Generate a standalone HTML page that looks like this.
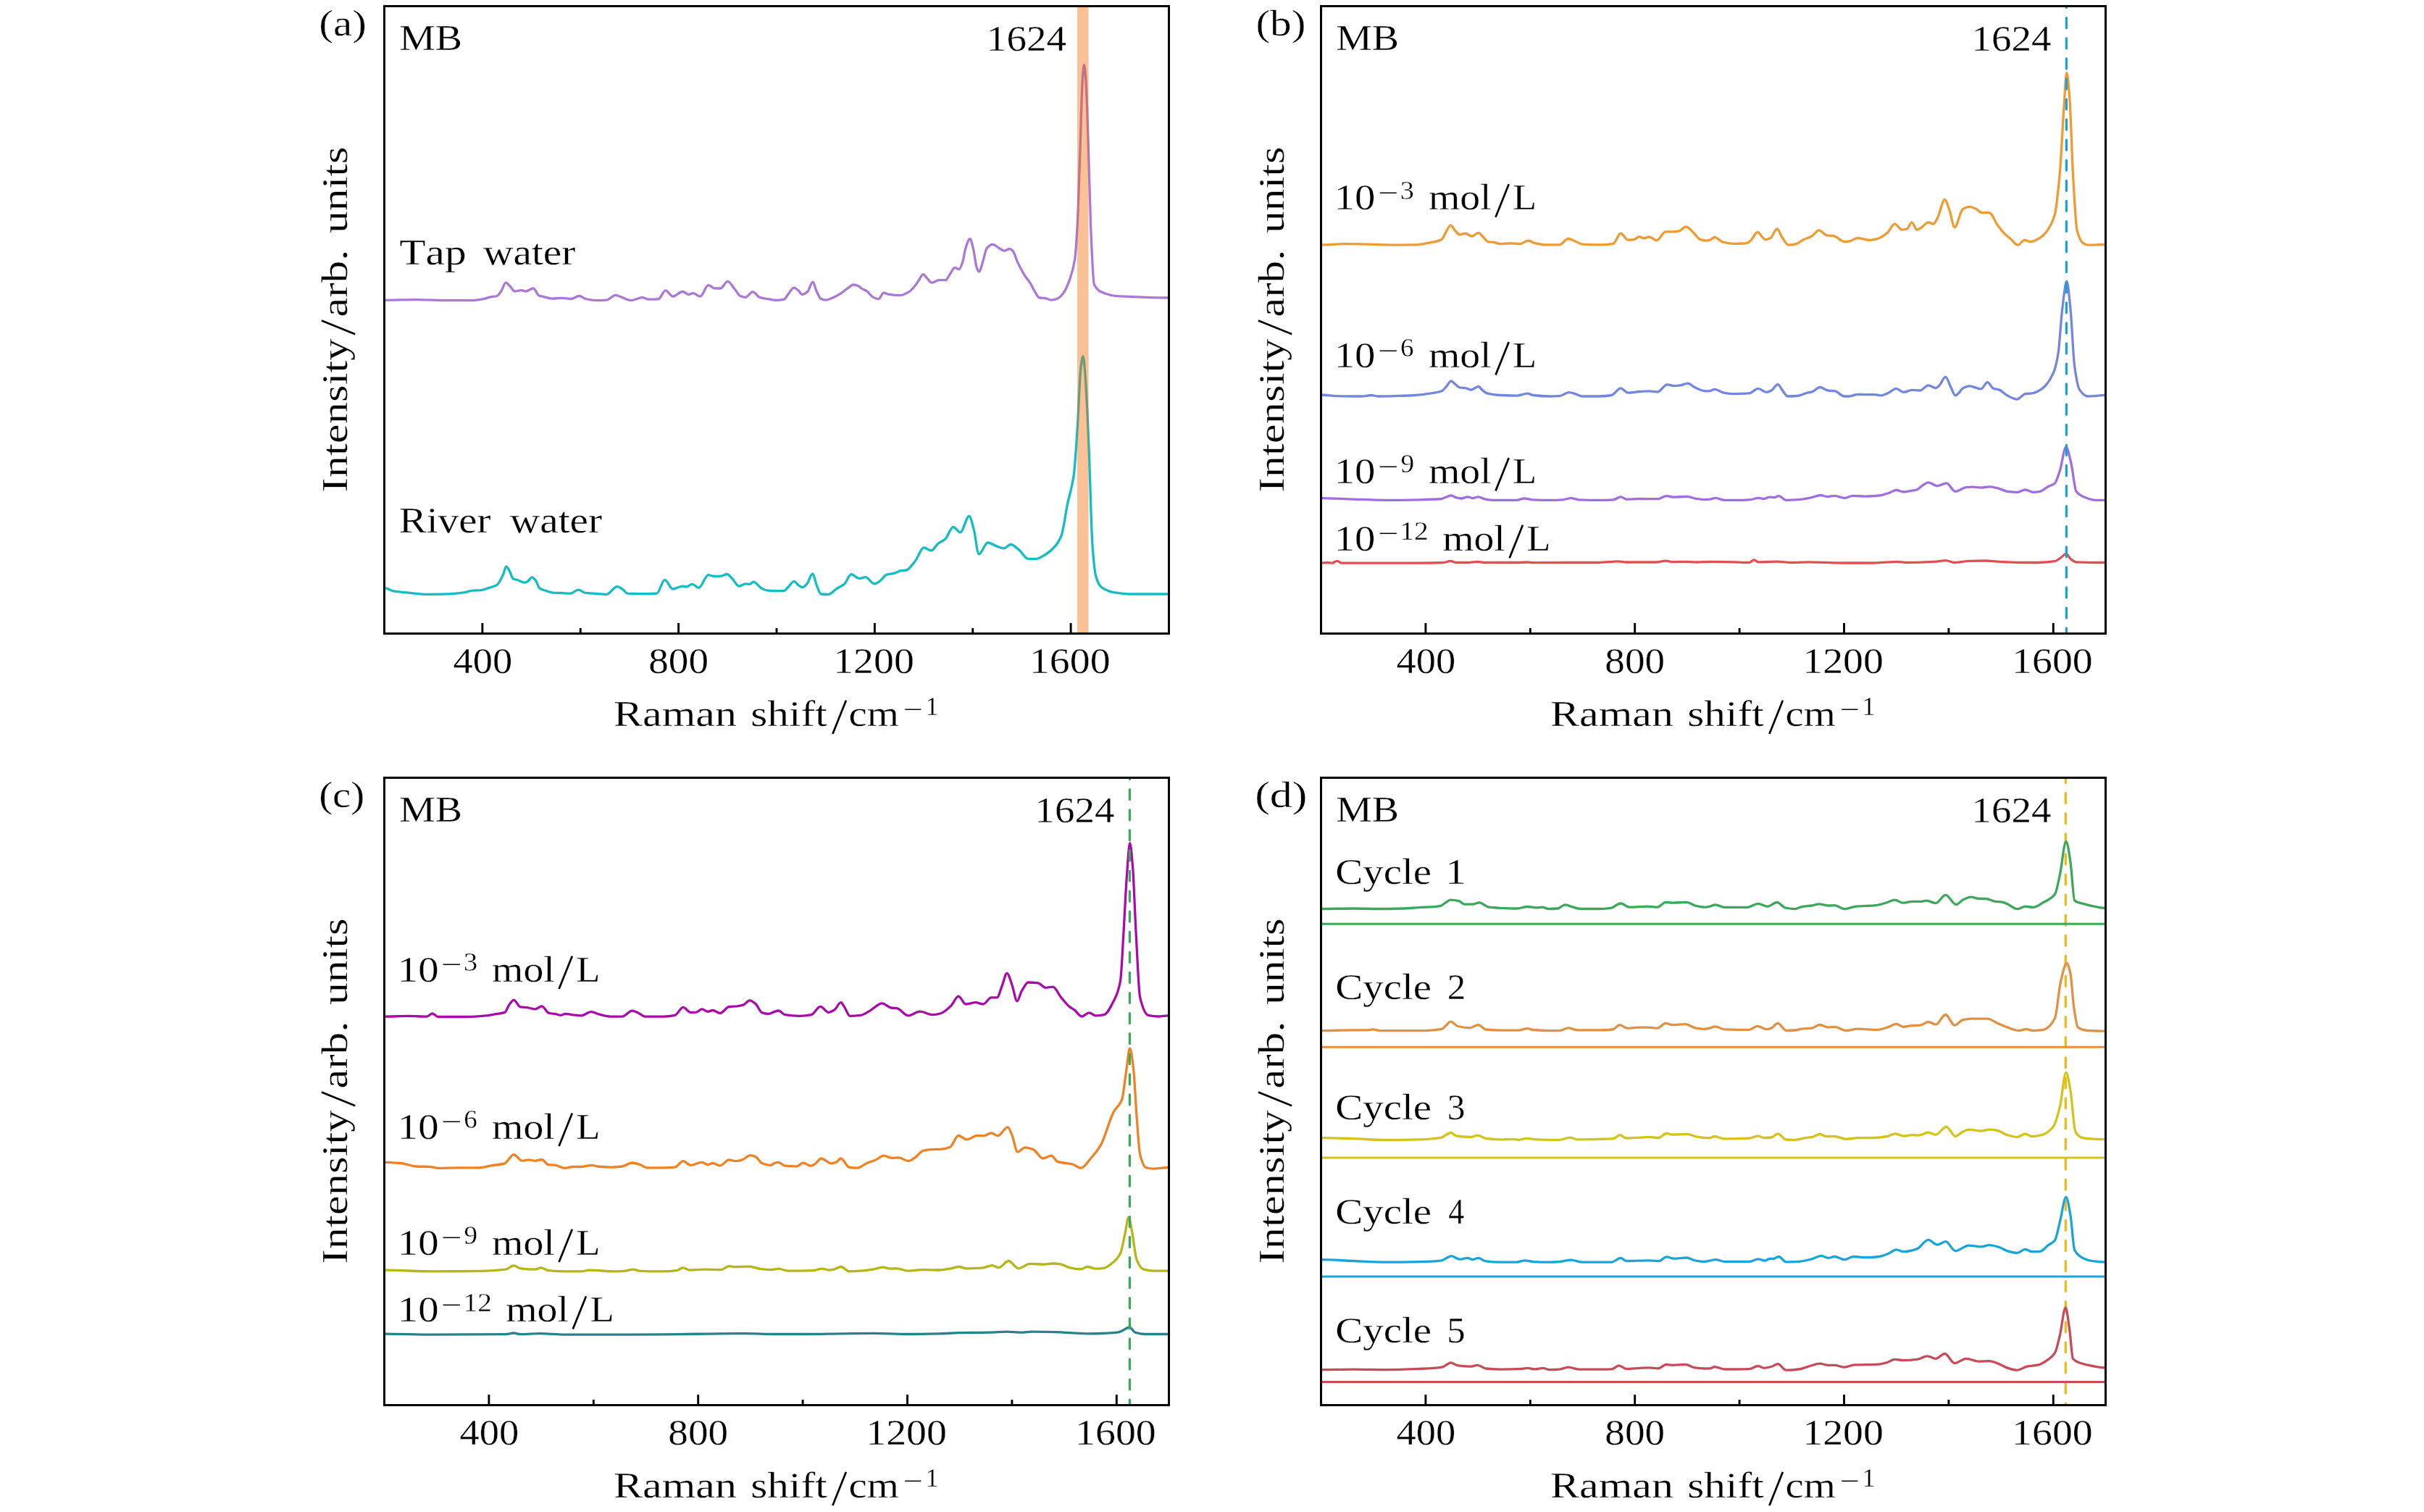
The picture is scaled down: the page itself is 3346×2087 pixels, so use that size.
<!DOCTYPE html><html><head><meta charset="utf-8"><style>html,body{margin:0;padding:0;background:#fff;width:3346px;height:2087px;overflow:hidden}svg{display:block;will-change:transform}text{font-family:"Liberation Serif", serif;fill:#000;font-kerning:none;stroke:#fff;stroke-width:0.3px}</style></head><body>
<svg width="3346" height="2087" viewBox="0 0 3346 2087">
<rect width="3346" height="2087" fill="#fff"/>
<defs>
<clipPath id="clipa"><rect x="530.5" y="8.5" width="1083.0" height="866.0"/></clipPath>
<clipPath id="clipb"><rect x="1823.5" y="8.5" width="1083.0" height="866.0"/></clipPath>
<clipPath id="clipc"><rect x="530.5" y="1073.5" width="1083.0" height="866.0"/></clipPath>
<clipPath id="clipd"><rect x="1823.5" y="1073.5" width="1083.0" height="866.0"/></clipPath>
</defs>
<line x1="2851.30" y1="1073.5" x2="2851.30" y2="1939.5" stroke="#F0B91A" stroke-width="3.3" stroke-dasharray="13.9 14.18" stroke-dashoffset="6.83" stroke-linecap="round"/>
<line x1="1823.5" y1="1275.3" x2="2906.5" y2="1275.3" stroke="#3CA85A" stroke-width="3.0"/>
<line x1="1823.5" y1="1445.2" x2="2906.5" y2="1445.2" stroke="#E19141" stroke-width="3.0"/>
<line x1="1823.5" y1="1598.0" x2="2906.5" y2="1598.0" stroke="#D4C319" stroke-width="3.0"/>
<line x1="1823.5" y1="1762.1" x2="2906.5" y2="1762.1" stroke="#19A5D7" stroke-width="3.0"/>
<line x1="1823.5" y1="1907.5" x2="2906.5" y2="1907.5" stroke="#C84B5A" stroke-width="3.0"/>
<path d="M527.5,414.3C528.3,414.3 529.2,414.3 530.0,414.3C544.9,414.3 559.7,413.6 574.6,413.6C589.4,413.6 604.3,414.7 619.1,414.7C630.2,414.7 641.4,414.7 652.5,414.7C657.7,414.7 662.9,413.5 668.1,412.5C671.1,411.9 674.1,410.4 677.0,409.8C680.0,409.2 683.0,409.3 685.9,408.5C687.8,408.0 689.6,405.0 691.5,402.5C693.7,399.5 696.0,390.2 698.2,390.2C700.0,390.2 701.9,393.0 703.8,394.7C706.0,396.7 708.2,402.0 710.4,402.0C713.4,402.0 716.4,400.7 719.4,400.7C721.6,400.7 723.8,402.0 726.0,402.0C729.4,402.0 732.7,398.0 736.1,398.0C738.7,398.0 741.3,407.0 743.9,408.0C746.1,408.9 748.3,409.1 750.5,409.6C754.3,410.4 758.0,412.1 761.7,412.1C766.1,412.1 770.6,411.4 775.0,411.4C779.5,411.4 784.0,412.5 788.4,412.5C792.1,412.5 795.8,408.5 799.5,408.5C802.5,408.5 805.5,411.8 808.5,412.5C813.7,413.7 818.9,414.7 824.1,414.7C828.5,414.7 833.0,414.5 837.4,414.1C841.5,413.7 845.6,407.4 849.7,407.4C853.0,407.4 856.4,409.8 859.7,410.9C863.4,412.2 867.1,414.7 870.8,414.7C876.0,414.7 881.2,410.7 886.4,410.7C889.4,410.7 892.4,413.2 895.3,413.2C899.8,413.2 904.2,413.1 908.7,412.9C912.0,412.8 915.4,400.9 918.7,400.9C922.1,400.9 925.4,409.2 928.8,409.2C933.2,409.2 937.7,402.5 942.1,402.5C945.1,402.5 948.1,406.5 951.0,406.5C952.9,406.5 954.7,404.7 956.6,404.7C959.9,404.7 963.3,409.2 966.6,409.2C970.3,409.2 974.0,393.6 977.8,393.6C980.7,393.6 983.7,398.0 986.7,398.0C989.3,398.0 991.9,398.0 994.5,398.0C997.8,398.0 1001.2,388.4 1004.5,388.4C1007.5,388.4 1010.4,394.6 1013.4,398.0C1016.4,401.4 1019.3,407.6 1022.3,408.7C1024.5,409.6 1026.8,410.3 1029.0,410.3C1032.3,410.3 1035.7,402.9 1039.0,402.9C1042.4,402.9 1045.7,409.7 1049.0,410.7C1052.7,411.8 1056.3,412.1 1060.0,412.7C1063.9,413.3 1067.7,414.5 1071.6,414.5C1075.0,414.5 1078.5,414.1 1082.0,413.4C1083.9,412.9 1085.9,408.7 1087.8,406.4C1090.5,403.3 1093.2,397.2 1095.9,397.2C1097.8,397.2 1099.7,399.2 1101.7,400.6C1103.6,402.1 1105.5,406.4 1107.5,406.4C1109.8,406.4 1112.1,404.7 1114.4,402.9C1116.9,401.0 1119.5,389.1 1122.0,389.1C1123.7,389.1 1125.4,398.2 1127.1,401.8C1129.1,405.8 1131.0,411.3 1132.9,412.2C1135.2,413.3 1137.6,414.1 1139.9,414.1C1143.3,414.1 1146.8,412.0 1150.3,410.6C1154.1,409.0 1158.0,406.6 1161.9,404.1C1164.9,402.1 1168.0,399.2 1171.1,397.2C1173.4,395.6 1175.8,393.0 1178.1,393.0C1180.4,393.0 1182.7,393.9 1185.0,394.8C1186.6,395.5 1188.1,397.4 1189.6,398.3C1192.0,399.7 1194.3,400.3 1196.6,401.8C1199.3,403.6 1202.0,408.5 1204.7,409.9C1207.4,411.3 1210.1,412.7 1212.8,412.7C1215.1,412.7 1217.4,404.1 1219.7,404.1C1222.1,404.1 1224.4,406.1 1226.7,406.4C1232.1,407.1 1237.5,407.6 1242.9,407.6C1246.7,407.6 1250.6,405.2 1254.5,402.9C1257.5,401.2 1260.6,397.5 1263.7,393.7C1265.3,391.8 1266.8,389.0 1268.4,386.7C1270.3,383.9 1272.2,378.6 1274.1,378.6C1276.1,378.6 1278.0,382.5 1279.9,384.4C1281.9,386.4 1283.8,390.2 1285.7,390.2C1289.2,390.2 1292.7,386.7 1296.1,386.7C1299.2,386.7 1302.3,386.7 1305.4,386.7C1307.3,386.7 1309.3,381.3 1311.2,378.6C1313.5,375.5 1315.8,369.4 1318.1,369.4C1320.1,369.4 1322.0,371.7 1323.9,371.7C1325.5,371.7 1327.0,366.7 1328.5,362.4C1330.1,358.2 1331.6,346.0 1333.2,341.6C1335.1,336.0 1337.0,329.6 1339.0,329.6C1340.5,329.6 1342.0,337.8 1343.6,343.9C1345.1,350.0 1346.7,365.5 1348.2,369.4C1349.4,372.3 1350.5,375.2 1351.7,375.2C1353.2,375.2 1354.8,367.1 1356.3,362.4C1358.3,356.6 1360.2,345.0 1362.1,342.8C1364.8,339.7 1367.5,337.4 1370.2,337.4C1373.3,337.4 1376.4,341.1 1379.5,342.8C1381.8,344.0 1384.1,346.2 1386.4,346.2C1388.7,346.2 1391.0,343.5 1393.4,343.5C1394.9,343.5 1396.5,344.8 1398.0,346.2C1400.3,348.4 1402.6,357.7 1404.9,362.4C1408.8,370.4 1412.7,377.7 1416.5,383.3C1418.1,385.5 1419.6,386.8 1421.1,389.1C1423.5,392.5 1425.8,398.2 1428.1,401.8C1430.4,405.4 1432.7,410.8 1435.0,411.0C1437.3,411.3 1439.7,411.3 1442.0,411.5C1445.1,411.8 1448.2,414.1 1451.2,414.1C1454.3,414.1 1457.4,413.0 1460.5,411.7C1462.8,410.8 1465.1,408.2 1467.4,405.3C1470.5,401.3 1473.6,394.3 1476.7,385.6C1479.0,379.1 1481.3,373.0 1483.7,357.8C1484.8,350.2 1486.0,332.1 1487.1,311.5C1488.3,290.9 1489.4,251.6 1490.6,218.9C1491.8,186.2 1492.9,132.8 1494.1,114.7C1494.8,102.7 1495.6,89.3 1496.4,89.3C1497.2,89.3 1497.9,98.7 1498.7,107.8C1499.9,121.4 1501.0,162.4 1502.2,195.8C1503.3,229.1 1504.5,284.5 1505.6,311.5C1507.2,347.5 1508.7,389.4 1510.3,392.5C1514.5,401.1 1518.8,402.4 1523.0,404.1C1529.2,406.6 1535.4,408.3 1541.5,408.7C1550.8,409.4 1560.0,409.6 1569.3,409.9C1583.9,410.4 1598.5,411.0 1613.1,411.0C1614.2,411.0 1615.4,411.0 1616.5,411.0" fill="none" stroke="#AA78D6" stroke-width="3.3" stroke-linejoin="round" stroke-linecap="round" clip-path="url(#clipa)"/>
<path d="M527.5,811.4C528.3,811.4 529.2,811.4 530.0,811.4C534.5,811.4 538.9,815.1 543.4,815.9C550.0,817.0 556.7,817.4 563.4,818.1C570.8,818.9 578.3,820.3 585.7,820.3C596.8,820.3 608.0,820.1 619.1,819.9C626.5,819.7 634.0,818.7 641.4,817.6C645.1,817.1 648.8,815.4 652.5,815.2C656.2,814.9 659.9,815.0 663.7,814.7C667.4,814.5 671.1,812.6 674.8,811.4C678.5,810.2 682.2,809.7 685.9,807.4C688.9,805.6 691.9,798.9 694.8,792.5C696.1,789.7 697.4,781.8 698.6,781.8C700.3,781.8 702.1,786.2 703.8,789.1C705.2,791.7 706.7,797.9 708.2,798.7C710.4,799.9 712.7,800.0 714.9,800.7C717.9,801.7 720.8,804.1 723.8,804.1C725.3,804.1 726.8,803.2 728.3,802.5C730.3,801.5 732.4,796.9 734.5,796.9C736.1,796.9 737.8,799.4 739.4,801.4C741.3,803.7 743.1,810.8 745.0,812.1C747.6,813.9 750.2,814.4 752.8,815.2C756.5,816.4 760.2,817.8 763.9,818.1C767.6,818.3 771.3,818.4 775.0,818.5C779.1,818.7 783.2,819.2 787.3,819.2C791.0,819.2 794.7,814.1 798.4,814.1C801.4,814.1 804.4,817.6 807.3,818.1C811.4,818.7 815.5,818.9 819.6,819.2C825.5,819.6 831.5,820.3 837.4,820.3C842.2,820.3 847.1,809.6 851.9,809.6C854.5,809.6 857.1,812.0 859.7,813.6C861.9,815.1 864.2,819.0 866.4,819.2C870.8,819.5 875.3,819.7 879.7,819.7C883.5,819.7 887.2,819.7 890.9,819.7C896.1,819.7 901.3,819.5 906.5,819.2C910.2,819.0 913.9,800.3 917.6,800.3C921.3,800.3 925.0,813.0 928.8,813.0C933.2,813.0 937.7,809.2 942.1,809.2C944.0,809.2 945.8,809.8 947.7,809.8C950.3,809.8 952.9,806.3 955.5,806.3C958.5,806.3 961.4,811.4 964.4,811.4C968.9,811.4 973.3,793.6 977.8,793.6C980.4,793.6 983.0,795.4 985.6,795.4C988.9,795.4 992.2,795.3 995.6,795.1C998.2,795.0 1000.8,792.5 1003.4,792.5C1006.0,792.5 1008.6,796.6 1011.2,799.2C1014.1,802.0 1017.1,809.2 1020.1,809.2C1023.1,809.2 1026.0,805.8 1029.0,805.8C1030.9,805.8 1032.7,806.3 1034.6,806.3C1036.4,806.3 1038.3,803.2 1040.1,803.2C1043.8,803.2 1047.6,810.3 1051.3,812.1C1054.2,813.5 1057.1,815.0 1060.0,815.1C1067.3,815.5 1074.7,815.6 1082.0,815.6C1084.1,815.6 1086.1,812.1 1088.1,810.2C1090.8,807.7 1093.5,802.4 1096.2,802.4C1098.0,802.4 1099.8,806.0 1101.6,807.3C1103.6,808.7 1105.7,810.7 1107.7,810.7C1109.8,810.7 1111.8,808.0 1113.8,805.8C1116.5,803.0 1119.1,791.9 1121.7,791.9C1123.6,791.9 1125.4,803.4 1127.3,807.8C1129.3,812.6 1131.4,819.8 1133.4,820.0C1136.7,820.3 1140.0,820.5 1143.2,820.5C1147.3,820.5 1151.4,814.7 1155.5,812.2C1158.7,810.1 1162.0,809.2 1165.2,806.5C1168.5,803.9 1171.8,792.6 1175.0,792.6C1178.7,792.6 1182.4,798.5 1186.0,798.5C1188.9,798.5 1191.8,796.7 1194.6,796.7C1198.7,796.7 1202.8,805.8 1206.9,805.8C1209.3,805.8 1211.7,803.9 1214.2,802.4C1217.5,800.4 1220.7,794.0 1224.0,793.1C1227.3,792.1 1230.5,792.1 1233.8,791.4C1237.0,790.6 1240.3,788.2 1243.6,787.7C1246.0,787.3 1248.5,787.4 1250.9,787.0C1255.0,786.3 1259.1,779.7 1263.1,774.7C1267.2,769.8 1271.3,755.9 1275.4,755.9C1278.6,755.9 1281.9,760.0 1285.2,760.0C1288.4,760.0 1291.7,752.8 1295.0,750.2C1298.2,747.7 1301.5,747.0 1304.8,744.1C1308.4,740.9 1312.1,727.5 1315.8,727.5C1319.0,727.5 1322.3,734.8 1325.6,734.8C1329.6,734.8 1333.7,712.3 1337.8,712.3C1339.8,712.3 1341.9,722.3 1343.9,729.4C1346.4,738.1 1348.8,764.9 1351.3,764.9C1355.3,764.9 1359.4,749.0 1363.5,749.0C1367.6,749.0 1371.7,752.5 1375.7,753.9C1379.0,755.0 1382.3,756.9 1385.5,756.9C1388.8,756.9 1392.1,751.5 1395.3,751.5C1399.4,751.5 1403.5,756.7 1407.6,760.0C1411.2,763.1 1414.9,770.7 1418.6,771.1C1422.2,771.4 1425.9,771.5 1429.6,771.5C1433.7,771.5 1437.7,768.5 1441.8,766.2C1446.7,763.4 1451.6,759.6 1456.5,753.9C1459.4,750.6 1462.2,746.6 1465.1,739.2C1467.9,731.9 1470.8,709.0 1473.6,695.2C1476.5,681.4 1479.3,676.2 1482.2,656.0C1483.8,644.5 1485.5,616.7 1487.1,592.4C1488.7,568.0 1490.4,518.8 1492.0,506.7C1493.0,499.4 1494.0,492.0 1494.9,492.0C1496.0,492.0 1497.1,506.7 1498.1,519.0C1499.7,537.8 1501.4,579.1 1503.0,616.9C1504.6,654.6 1506.3,729.3 1507.9,751.5C1509.5,773.6 1511.2,789.9 1512.8,795.5C1515.2,803.9 1517.7,808.3 1520.1,810.2C1525.9,814.6 1531.6,816.6 1537.3,817.6C1545.4,818.9 1553.6,820.0 1561.8,820.0C1578.9,820.0 1596.0,820.0 1613.1,820.0C1614.3,820.0 1615.4,820.0 1616.5,820.0" fill="none" stroke="#12BEC3" stroke-width="3.3" stroke-linejoin="round" stroke-linecap="round" clip-path="url(#clipa)"/>
<path d="M1820.5,337.9C1821.3,337.9 1822.2,337.9 1823.0,337.9C1834.3,337.9 1845.6,336.7 1856.8,336.7C1868.1,336.7 1879.4,337.0 1890.7,337.2C1902.0,337.4 1913.3,338.1 1924.5,338.1C1934.3,338.1 1944.1,338.0 1953.9,337.9C1959.1,337.8 1964.4,336.6 1969.7,335.6C1976.5,334.4 1983.2,333.8 1990.0,330.4C1992.2,329.3 1994.5,322.2 1996.8,318.7C1998.6,315.8 2000.5,310.8 2002.4,310.8C2004.3,310.8 2006.2,315.6 2008.0,317.5C2010.3,319.9 2012.6,323.9 2014.8,323.9C2017.4,323.9 2020.1,322.1 2022.7,322.1C2025.7,322.1 2028.7,326.1 2031.7,326.1C2034.7,326.1 2037.8,321.4 2040.8,321.4C2043.4,321.4 2046.0,326.4 2048.7,328.8C2050.5,330.5 2052.4,333.5 2054.3,333.8C2056.9,334.2 2059.6,334.1 2062.2,334.5C2065.2,334.8 2068.2,336.7 2071.2,336.7C2075.7,336.7 2080.3,335.8 2084.8,335.8C2089.3,335.8 2093.8,336.7 2098.3,336.7C2102.1,336.7 2105.8,332.2 2109.6,332.2C2112.6,332.2 2115.6,334.9 2118.6,335.6C2123.9,336.7 2129.1,337.9 2134.4,337.9C2140.4,337.9 2146.4,337.9 2152.5,337.9C2156.6,337.9 2160.7,329.5 2164.9,329.5C2168.3,329.5 2171.6,332.0 2175.0,333.3C2178.0,334.5 2181.1,337.0 2184.1,337.2C2191.6,337.7 2199.1,337.9 2206.6,337.9C2213.4,337.9 2220.2,337.4 2226.9,336.3C2230.3,335.7 2233.7,322.1 2237.1,322.1C2240.5,322.1 2243.9,331.1 2247.2,331.1C2249.9,331.1 2252.5,330.9 2255.1,330.6C2257.8,330.4 2260.4,326.6 2263.0,326.6C2264.9,326.6 2266.8,328.8 2268.7,328.8C2271.3,328.8 2273.9,327.0 2276.6,327.0C2280.0,327.0 2283.4,331.8 2286.7,331.8C2290.9,331.8 2295.0,319.8 2299.1,319.8C2302.2,319.8 2305.2,319.8 2308.2,319.8C2311.2,319.8 2314.2,319.5 2317.2,319.1C2320.6,318.7 2324.0,313.0 2327.4,313.0C2330.7,313.0 2334.1,317.9 2337.5,320.9C2340.5,323.6 2343.5,329.4 2346.5,330.4C2349.5,331.4 2352.6,332.2 2355.6,332.2C2357.0,332.2 2358.5,331.8 2360.0,331.4C2362.3,330.8 2364.5,327.3 2366.8,327.3C2370.6,327.3 2374.4,333.2 2378.2,334.1C2383.4,335.4 2388.7,336.4 2394.0,336.4C2399.3,336.4 2404.6,336.3 2409.9,335.9C2412.2,335.8 2414.5,333.7 2416.7,331.9C2419.7,329.4 2422.8,320.5 2425.8,320.5C2429.6,320.5 2433.4,330.7 2437.1,330.7C2439.4,330.7 2441.7,329.6 2444.0,328.5C2447.0,326.9 2450.0,316.0 2453.0,316.0C2455.3,316.0 2457.6,324.1 2459.8,327.3C2462.9,331.6 2465.9,338.2 2468.9,338.2C2472.7,338.2 2476.5,337.4 2480.3,336.4C2483.3,335.6 2486.3,332.2 2489.3,330.7C2493.1,328.9 2496.9,328.2 2500.7,326.2C2504.1,324.3 2507.5,317.8 2510.9,317.8C2514.3,317.8 2517.7,323.8 2521.1,324.6C2524.9,325.5 2528.7,325.4 2532.4,326.2C2537.0,327.2 2541.5,333.7 2546.1,333.7C2548.3,333.7 2550.6,333.3 2552.9,333.0C2556.6,332.4 2560.4,328.5 2564.2,328.5C2569.5,328.5 2574.8,331.4 2580.1,331.4C2583.9,331.4 2587.7,330.5 2591.4,329.6C2596.0,328.5 2600.5,325.3 2605.0,321.6C2608.5,318.9 2611.9,309.2 2615.3,309.2C2618.7,309.2 2622.1,317.1 2625.5,317.1C2627.7,317.1 2630.0,316.6 2632.3,316.0C2634.5,315.3 2636.8,306.9 2639.1,306.9C2641.4,306.9 2643.6,317.1 2645.9,317.1C2648.2,317.1 2650.4,315.1 2652.7,313.7C2655.7,311.9 2658.7,306.9 2661.8,306.9C2664.0,306.9 2666.3,309.2 2668.6,309.2C2670.5,309.2 2672.4,304.5 2674.3,301.2C2677.7,295.3 2681.1,275.6 2684.5,275.6C2686.7,275.6 2689.0,284.9 2691.3,291.0C2693.5,297.1 2695.8,313.7 2698.1,313.7C2701.9,313.7 2705.6,291.1 2709.4,288.7C2712.4,286.9 2715.5,285.3 2718.5,285.3C2721.5,285.3 2724.5,286.9 2727.6,288.3C2730.2,289.5 2732.9,293.7 2735.5,293.7C2738.9,293.7 2742.3,293.3 2745.7,293.3C2749.5,293.3 2753.3,305.3 2757.1,310.3C2760.9,315.3 2764.6,320.2 2768.4,323.9C2770.7,326.1 2773.0,327.7 2775.2,329.6C2778.6,332.4 2782.0,338.2 2785.4,338.2C2788.5,338.2 2791.5,331.4 2794.5,331.4C2797.2,331.4 2799.8,333.7 2802.4,333.7C2806.2,333.7 2810.0,331.5 2813.8,329.6C2817.6,327.6 2821.4,324.1 2825.1,319.4C2828.9,314.6 2832.7,308.9 2836.5,295.6C2838.8,287.5 2841.0,263.9 2843.3,238.8C2845.2,217.9 2847.1,174.2 2849.0,148.1C2850.2,130.3 2851.5,100.4 2852.8,100.4C2854.2,100.4 2855.5,119.5 2856.9,136.7C2858.4,155.9 2859.9,212.5 2861.4,238.8C2863.3,271.7 2865.2,310.9 2867.1,318.2C2869.8,328.5 2872.4,333.4 2875.1,335.3C2877.3,336.9 2879.6,338.2 2881.9,338.2C2889.8,338.2 2897.7,337.5 2905.7,337.5C2907.0,337.5 2908.2,337.5 2909.5,337.5" fill="none" stroke="#F09B32" stroke-width="3.3" stroke-linejoin="round" stroke-linecap="round" clip-path="url(#clipb)"/>
<path d="M1820.5,545.0C1821.3,545.0 1822.2,545.0 1823.0,545.0C1830.5,545.0 1838.0,546.4 1845.6,546.6C1856.8,546.9 1868.1,547.0 1879.4,547.0C1883.9,547.0 1888.4,545.5 1893.0,545.5C1896.0,545.5 1899.0,547.0 1902.0,547.0C1909.5,547.0 1917.0,546.8 1924.5,546.6C1934.3,546.3 1944.1,546.1 1953.9,545.5C1959.1,545.1 1964.4,544.4 1969.7,543.7C1976.5,542.7 1983.2,542.2 1990.0,539.8C1992.2,539.0 1994.5,535.5 1996.8,533.1C1998.9,530.8 2001.0,525.8 2003.1,525.8C2004.7,525.8 2006.4,528.4 2008.0,529.7C2010.3,531.4 2012.6,534.4 2014.8,534.9C2017.8,535.4 2020.8,535.3 2023.8,535.8C2026.1,536.1 2028.4,538.0 2030.6,538.0C2034.0,538.0 2037.4,533.5 2040.8,533.5C2042.6,533.5 2044.5,537.2 2046.4,538.7C2048.7,540.4 2050.9,542.7 2053.2,543.2C2059.2,544.6 2065.2,545.2 2071.2,545.5C2078.8,545.8 2086.3,546.1 2093.8,546.1C2098.7,546.1 2103.6,543.2 2108.5,543.2C2111.1,543.2 2113.7,545.1 2116.4,545.5C2123.9,546.4 2131.4,547.0 2138.9,547.0C2143.4,547.0 2148.0,546.9 2152.5,546.6C2157.0,546.3 2161.5,541.6 2166.0,541.6C2169.0,541.6 2172.0,543.0 2175.0,543.9C2178.0,544.8 2181.1,547.0 2184.1,547.0C2191.6,547.0 2199.1,547.0 2206.6,547.0C2212.6,547.0 2218.7,546.5 2224.7,545.5C2228.8,544.8 2233.0,535.8 2237.1,535.8C2240.5,535.8 2243.9,542.1 2247.2,542.1C2252.5,542.1 2257.8,540.8 2263.0,540.5C2267.6,540.2 2272.1,539.8 2276.6,539.8C2280.3,539.8 2284.1,540.9 2287.9,540.9C2292.4,540.9 2296.9,530.8 2301.4,530.8C2304.4,530.8 2307.4,532.6 2310.4,532.6C2313.4,532.6 2316.4,532.3 2319.5,531.9C2322.8,531.5 2326.2,529.2 2329.6,529.2C2333.0,529.2 2336.4,533.4 2339.8,534.9C2344.7,536.9 2349.5,539.8 2354.4,539.8C2356.3,539.8 2358.1,539.8 2360.0,539.7C2362.3,539.6 2364.5,537.4 2366.8,537.4C2371.3,537.4 2375.9,541.8 2380.4,542.4C2385.0,543.1 2389.5,543.6 2394.0,543.6C2400.8,543.6 2407.6,543.4 2414.5,542.9C2418.6,542.6 2422.8,536.3 2426.9,536.3C2430.7,536.3 2434.5,541.3 2438.3,541.3C2440.5,541.3 2442.8,540.1 2445.1,539.0C2448.1,537.6 2451.1,530.6 2454.2,530.6C2456.1,530.6 2457.9,535.6 2459.8,537.9C2462.5,541.1 2465.1,547.0 2467.8,547.0C2471.9,547.0 2476.1,546.8 2480.3,546.5C2484.8,546.2 2489.3,543.6 2493.9,542.4C2496.5,541.8 2499.2,541.5 2501.8,540.6C2505.2,539.5 2508.6,534.5 2512.0,534.5C2515.8,534.5 2519.6,538.6 2523.4,539.0C2526.4,539.4 2529.4,539.3 2532.4,539.7C2537.0,540.3 2541.5,547.0 2546.1,547.0C2548.3,547.0 2550.6,547.0 2552.9,547.0C2556.6,547.0 2560.4,544.3 2564.2,544.3C2568.0,544.3 2571.8,544.7 2575.6,544.7C2579.3,544.7 2583.1,544.7 2586.9,544.7C2589.9,544.7 2592.9,545.8 2596.0,545.8C2599.8,545.8 2603.5,543.6 2607.3,542.0C2610.7,540.5 2614.1,536.3 2617.5,536.3C2620.9,536.3 2624.3,541.3 2627.7,541.3C2631.5,541.3 2635.3,538.4 2639.1,538.4C2642.9,538.4 2646.6,539.0 2650.4,539.0C2654.2,539.0 2658.0,531.8 2661.8,531.8C2665.2,531.8 2668.6,535.6 2672.0,535.6C2673.9,535.6 2675.8,533.0 2677.7,531.1C2680.3,528.5 2682.9,520.2 2685.6,520.2C2687.9,520.2 2690.1,529.1 2692.4,533.4C2694.7,537.6 2696.9,545.8 2699.2,545.8C2703.0,545.8 2706.8,536.8 2710.6,535.2C2713.2,534.1 2715.8,532.9 2718.5,532.9C2723.8,532.9 2729.1,536.8 2734.4,536.8C2737.4,536.8 2740.4,527.7 2743.5,527.7C2746.1,527.7 2748.7,535.1 2751.4,536.1C2754.0,537.1 2756.7,537.0 2759.3,537.9C2763.1,539.2 2766.9,544.0 2770.7,545.8C2775.2,548.1 2779.8,551.1 2784.3,551.1C2788.1,551.1 2791.9,544.1 2795.6,543.6C2798.7,543.2 2801.7,543.3 2804.7,542.9C2809.3,542.3 2813.8,539.8 2818.3,536.8C2823.6,533.2 2828.9,526.7 2834.2,515.2C2836.5,510.3 2838.8,501.4 2841.0,488.0C2842.9,476.8 2844.8,441.8 2846.7,426.7C2848.7,410.4 2850.8,388.2 2852.8,388.2C2854.6,388.2 2856.3,410.0 2858.0,426.7C2859.9,444.9 2861.8,492.7 2863.7,506.1C2866.0,522.3 2868.2,534.6 2870.5,537.9C2874.3,543.4 2878.1,547.0 2881.9,547.0C2885.6,547.0 2889.4,546.7 2893.2,546.5C2897.4,546.3 2901.5,545.4 2905.7,545.4C2907.0,545.4 2908.2,545.4 2909.5,545.4" fill="none" stroke="#7387E1" stroke-width="3.3" stroke-linejoin="round" stroke-linecap="round" clip-path="url(#clipb)"/>
<path d="M1820.5,687.6C1821.3,687.6 1822.2,687.6 1823.0,687.6C1838.0,687.6 1853.1,688.7 1868.1,689.1C1883.2,689.6 1898.2,690.3 1913.3,690.3C1928.3,690.3 1943.4,690.1 1958.4,689.8C1968.9,689.6 1979.5,689.4 1990.0,688.5C1992.2,688.2 1994.5,686.5 1996.8,685.8C1998.9,685.1 2001.0,683.9 2003.1,683.9C2005.5,683.9 2007.9,686.3 2010.3,686.9C2012.6,687.4 2014.8,688.0 2017.1,688.0C2020.1,688.0 2023.1,685.8 2026.1,685.8C2028.4,685.8 2030.6,687.6 2032.9,687.6C2035.5,687.6 2038.1,685.8 2040.8,685.8C2043.4,685.8 2046.0,688.1 2048.7,688.7C2052.4,689.5 2056.2,690.3 2059.9,690.3C2071.2,690.3 2082.5,690.3 2093.8,690.3C2097.2,690.3 2100.6,688.0 2103.9,688.0C2108.1,688.0 2112.2,689.7 2116.4,689.8C2123.9,690.1 2131.4,690.3 2138.9,690.3C2144.9,690.3 2151.0,690.1 2157.0,689.8C2160.7,689.6 2164.5,687.6 2168.3,687.6C2172.0,687.6 2175.8,689.7 2179.5,689.8C2188.6,690.1 2197.6,690.3 2206.6,690.3C2213.4,690.3 2220.2,690.1 2226.9,689.8C2230.3,689.7 2233.7,685.8 2237.1,685.8C2239.7,685.8 2242.4,689.1 2245.0,689.1C2251.0,689.1 2257.0,688.5 2263.0,688.5C2271.3,688.5 2279.6,688.7 2287.9,688.7C2292.0,688.7 2296.1,684.6 2300.3,684.6C2303.7,684.6 2307.0,686.2 2310.4,686.2C2316.4,686.2 2322.5,685.3 2328.5,685.3C2333.0,685.3 2337.5,687.8 2342.0,688.5C2345.8,689.0 2349.5,689.6 2353.3,689.6C2355.5,689.6 2357.8,689.4 2360.0,689.2C2362.6,688.9 2365.3,687.4 2367.9,687.4C2372.1,687.4 2376.3,690.3 2380.4,690.3C2388.7,690.3 2397.1,690.3 2405.4,690.3C2409.2,690.3 2412.9,690.0 2416.7,689.6C2420.1,689.3 2423.5,687.4 2426.9,687.4C2429.6,687.4 2432.2,688.5 2434.9,688.5C2437.5,688.5 2440.2,686.2 2442.8,686.2C2444.7,686.2 2446.6,686.7 2448.5,686.7C2450.8,686.7 2453.0,684.6 2455.3,684.6C2458.7,684.6 2462.1,690.3 2465.5,690.3C2471.2,690.3 2476.9,690.0 2482.5,689.6C2488.6,689.2 2494.6,687.9 2500.7,686.7C2504.8,685.8 2509.0,683.5 2513.2,683.5C2516.2,683.5 2519.2,685.5 2522.2,685.5C2525.6,685.5 2529.0,684.4 2532.4,684.4C2537.0,684.4 2541.5,687.4 2546.1,687.4C2549.8,687.4 2553.6,684.4 2557.4,684.4C2563.5,684.4 2569.5,685.1 2575.6,685.1C2581.6,685.1 2587.7,684.6 2593.7,684.0C2598.2,683.5 2602.8,682.0 2607.3,680.5C2610.7,679.5 2614.1,676.5 2617.5,676.5C2620.9,676.5 2624.3,679.0 2627.7,679.0C2630.8,679.0 2633.8,678.1 2636.8,677.6C2639.8,677.1 2642.9,676.9 2645.9,676.0C2648.9,675.2 2651.9,671.0 2655.0,669.2C2657.2,667.9 2659.5,665.8 2661.8,665.8C2665.9,665.8 2670.1,670.8 2674.3,670.8C2678.4,670.8 2682.6,666.9 2686.7,666.9C2690.9,666.9 2695.1,678.3 2699.2,678.3C2704.1,678.3 2709.0,673.0 2714.0,672.6C2717.0,672.4 2720.0,672.2 2723.0,672.2C2726.8,672.2 2730.6,673.1 2734.4,673.1C2738.2,673.1 2741.9,671.9 2745.7,671.9C2749.5,671.9 2753.3,672.9 2757.1,673.7C2761.6,674.7 2766.1,677.7 2770.7,678.3C2775.2,678.9 2779.8,679.4 2784.3,679.4C2788.1,679.4 2791.9,676.0 2795.6,676.0C2799.4,676.0 2803.2,679.4 2807.0,679.4C2810.0,679.4 2813.0,678.9 2816.1,678.3C2819.8,677.5 2823.6,673.5 2827.4,671.5C2830.4,669.8 2833.5,669.5 2836.5,666.9C2838.8,665.0 2841.0,656.7 2843.3,649.9C2846.2,641.3 2849.0,617.0 2851.9,617.0C2854.3,617.0 2856.8,630.9 2859.2,640.8C2861.4,650.2 2863.7,675.3 2866.0,678.3C2869.8,683.3 2873.5,684.8 2877.3,686.2C2882.6,688.3 2887.9,690.3 2893.2,690.3C2897.4,690.3 2901.5,690.3 2905.7,690.3C2907.0,690.3 2908.2,690.3 2909.5,690.3" fill="none" stroke="#A06EE1" stroke-width="3.3" stroke-linejoin="round" stroke-linecap="round" clip-path="url(#clipb)"/>
<path d="M1820.5,777.1C1821.3,777.1 1822.2,777.1 1823.0,777.1C1826.0,777.1 1829.0,776.5 1832.0,776.5C1834.3,776.5 1836.5,777.1 1838.8,777.1C1841.1,777.1 1843.3,774.4 1845.6,774.4C1847.8,774.4 1850.1,777.1 1852.3,777.1C1865.1,777.1 1877.9,777.1 1890.7,777.1C1913.3,777.1 1935.8,777.1 1958.4,777.1C1969.7,777.1 1981.0,776.9 1992.2,776.5C1995.6,776.3 1999.0,774.4 2002.4,774.4C2005.0,774.4 2007.7,776.5 2010.3,776.5C2015.6,776.5 2020.8,776.5 2026.1,776.5C2030.6,776.5 2035.1,775.3 2039.6,775.3C2042.6,775.3 2045.7,776.5 2048.7,776.5C2063.7,776.5 2078.8,776.5 2093.8,776.5C2099.1,776.5 2104.3,776.0 2109.6,776.0C2111.8,776.0 2114.1,776.7 2116.4,776.7C2131.4,776.7 2146.4,776.5 2161.5,776.5C2176.5,776.5 2191.6,776.5 2206.6,776.5C2215.7,776.5 2224.7,774.9 2233.7,774.9C2237.5,774.9 2241.2,776.0 2245.0,776.0C2258.5,776.0 2272.1,776.0 2285.6,776.0C2290.1,776.0 2294.6,774.2 2299.1,774.2C2302.2,774.2 2305.2,775.6 2308.2,775.6C2314.9,775.6 2321.7,775.3 2328.5,775.3C2333.0,775.3 2337.5,776.0 2342.0,776.0C2348.0,776.0 2354.0,775.4 2360.0,775.4C2371.3,775.4 2382.7,775.6 2394.0,775.8C2400.8,776.0 2407.6,776.5 2414.5,776.5C2416.7,776.5 2419.0,772.9 2421.3,772.9C2423.2,772.9 2425.0,775.8 2426.9,775.8C2435.6,775.8 2444.3,775.2 2453.0,775.2C2459.8,775.2 2466.6,776.5 2473.4,776.5C2481.0,776.5 2488.6,775.8 2496.1,775.8C2511.3,775.8 2526.4,777.0 2541.5,777.0C2556.6,777.0 2571.8,777.0 2586.9,777.0C2597.5,777.0 2608.1,775.4 2618.7,775.4C2623.2,775.4 2627.7,776.5 2632.3,776.5C2645.9,776.5 2659.5,776.0 2673.1,775.2C2677.3,774.9 2681.4,773.6 2685.6,773.6C2689.8,773.6 2693.9,776.5 2698.1,776.5C2704.9,776.5 2711.7,774.4 2718.5,774.3C2726.1,774.1 2733.6,774.0 2741.2,774.0C2746.5,774.0 2751.8,774.9 2757.1,775.2C2768.4,775.8 2779.8,776.5 2791.1,776.5C2798.7,776.5 2806.2,776.5 2813.8,776.5C2821.4,776.5 2828.9,775.9 2836.5,774.7C2839.5,774.2 2842.5,771.1 2845.6,769.0C2847.7,767.6 2849.8,764.5 2851.9,764.5C2854.0,764.5 2856.0,769.7 2858.0,771.3C2860.7,773.3 2863.3,775.7 2866.0,775.8C2879.2,776.4 2892.4,776.5 2905.7,776.5C2907.0,776.5 2908.2,776.5 2909.5,776.5" fill="none" stroke="#E15050" stroke-width="3.3" stroke-linejoin="round" stroke-linecap="round" clip-path="url(#clipb)"/>
<path d="M527.5,1403.1C528.3,1403.1 529.2,1403.1 530.0,1403.1C541.3,1403.1 552.7,1402.4 564.0,1402.4C572.4,1402.4 580.7,1403.1 589.0,1403.1C591.6,1403.1 594.3,1399.0 596.9,1399.0C599.6,1399.0 602.2,1403.5 604.9,1403.5C617.7,1403.5 630.6,1403.5 643.4,1403.5C652.5,1403.5 661.6,1402.8 670.7,1401.9C675.2,1401.5 679.8,1400.5 684.3,1399.7C688.4,1398.9 692.6,1398.9 696.8,1397.4C698.7,1396.7 700.6,1390.2 702.4,1387.6C704.7,1384.6 707.0,1380.4 709.2,1380.4C712.3,1380.4 715.3,1389.5 718.3,1389.9C721.3,1390.3 724.4,1390.3 727.4,1390.6C731.2,1391.0 735.0,1392.9 738.7,1392.9C741.8,1392.9 744.8,1388.8 747.8,1388.8C751.2,1388.8 754.6,1397.9 758.0,1398.5C760.7,1399.1 763.3,1399.0 766.0,1399.4C768.6,1399.9 771.3,1401.3 773.9,1401.3C776.2,1401.3 778.5,1399.4 780.7,1399.4C784.1,1399.4 787.5,1400.4 790.9,1400.8C794.7,1401.2 798.5,1401.9 802.3,1401.9C806.8,1401.9 811.4,1396.7 815.9,1396.7C819.7,1396.7 823.5,1399.2 827.2,1400.1C832.5,1401.4 837.8,1403.1 843.1,1403.1C848.4,1403.1 853.7,1403.1 859.0,1403.1C863.5,1403.1 868.1,1395.1 872.6,1395.1C875.6,1395.1 878.7,1397.2 881.7,1398.5C884.7,1399.8 887.7,1403.1 890.8,1403.1C899.1,1403.1 907.4,1403.1 915.7,1403.1C921.0,1403.1 926.3,1402.4 931.6,1401.3C935.4,1400.5 939.2,1390.4 943.0,1390.4C946.4,1390.4 949.8,1397.4 953.2,1397.4C955.8,1397.4 958.5,1397.3 961.1,1397.2C963.8,1397.0 966.4,1392.9 969.0,1392.9C971.7,1392.9 974.3,1396.3 977.0,1396.3C979.3,1396.3 981.5,1394.5 983.8,1394.5C987.2,1394.5 990.6,1398.5 994.0,1398.5C998.2,1398.5 1002.3,1389.9 1006.5,1389.5C1010.3,1389.0 1014.0,1389.1 1017.8,1388.8C1020.5,1388.5 1023.1,1388.0 1025.8,1387.2C1028.8,1386.3 1031.8,1380.8 1034.8,1380.8C1037.5,1380.8 1040.1,1383.3 1042.8,1385.4C1045.8,1387.8 1048.8,1396.9 1051.9,1397.9C1054.9,1398.8 1057.9,1399.4 1060.9,1399.4C1064.0,1399.4 1067.0,1397.1 1070.0,1396.2C1071.5,1395.7 1073.0,1395.0 1074.5,1395.0C1077.6,1395.0 1080.6,1400.3 1083.6,1400.7C1090.4,1401.8 1097.2,1402.3 1104.0,1402.3C1109.3,1402.3 1114.6,1401.7 1119.9,1400.7C1124.1,1399.9 1128.2,1389.4 1132.4,1389.4C1136.2,1389.4 1140.0,1397.3 1143.7,1397.3C1146.4,1397.3 1149.0,1395.5 1151.7,1393.9C1154.7,1392.1 1157.7,1383.7 1160.8,1383.7C1162.3,1383.7 1163.8,1387.3 1165.3,1389.4C1167.9,1393.1 1170.6,1402.3 1173.2,1402.3C1178.2,1402.3 1183.1,1401.9 1188.0,1401.4C1192.5,1400.9 1197.1,1397.1 1201.6,1394.6C1206.9,1391.7 1212.2,1384.8 1217.5,1384.8C1221.6,1384.8 1225.8,1390.4 1230.0,1391.0C1232.6,1391.3 1235.3,1391.3 1237.9,1391.6C1243.2,1392.4 1248.5,1401.9 1253.8,1401.9C1259.1,1401.9 1264.4,1396.2 1269.7,1396.2C1275.7,1396.2 1281.8,1400.7 1287.8,1400.7C1291.6,1400.7 1295.4,1399.6 1299.2,1398.5C1303.7,1397.0 1308.2,1392.6 1312.8,1388.2C1316.2,1385.0 1319.6,1375.1 1323.0,1375.1C1326.4,1375.1 1329.8,1386.0 1333.2,1386.0C1337.7,1386.0 1342.3,1383.7 1346.8,1383.7C1350.2,1383.7 1353.6,1386.0 1357.0,1386.0C1360.8,1386.0 1364.6,1376.9 1368.4,1376.9C1371.0,1376.9 1373.7,1376.9 1376.3,1376.9C1378.6,1376.9 1380.8,1366.6 1383.1,1361.0C1385.4,1355.4 1387.7,1343.3 1389.9,1343.3C1392.2,1343.3 1394.5,1352.7 1396.7,1358.7C1399.2,1365.1 1401.6,1381.9 1404.0,1381.9C1406.1,1381.9 1408.2,1371.3 1410.3,1367.8C1413.4,1362.8 1416.4,1356.0 1419.4,1356.0C1424.0,1356.0 1428.5,1356.4 1433.0,1356.9C1436.4,1357.4 1439.8,1363.3 1443.2,1363.3C1446.6,1363.3 1450.1,1362.1 1453.5,1362.1C1457.2,1362.1 1461.0,1372.4 1464.8,1376.9C1468.6,1381.4 1472.4,1386.3 1476.1,1389.4C1478.4,1391.2 1480.7,1392.2 1483.0,1393.9C1486.4,1396.5 1489.8,1403.0 1493.2,1403.0C1496.6,1403.0 1500.0,1397.8 1503.4,1397.8C1506.4,1397.8 1509.4,1401.9 1512.4,1401.9C1516.2,1401.9 1520.0,1401.4 1523.8,1400.7C1528.3,1399.9 1532.9,1390.4 1537.4,1381.4C1540.4,1375.5 1543.5,1370.5 1546.5,1354.2C1548.0,1346.0 1549.5,1310.6 1551.0,1286.1C1552.5,1261.7 1554.0,1226.6 1555.6,1206.7C1556.9,1188.9 1558.3,1163.6 1559.6,1163.6C1560.9,1163.6 1562.2,1180.5 1563.5,1195.4C1565.0,1212.8 1566.5,1259.1 1568.0,1286.1C1569.9,1319.9 1571.8,1369.0 1573.7,1376.9C1577.5,1392.6 1581.3,1400.5 1585.1,1401.4C1589.6,1402.4 1594.1,1403.0 1598.7,1403.0C1603.2,1403.0 1607.7,1401.9 1612.3,1401.9C1613.7,1401.9 1615.1,1401.9 1616.5,1401.9" fill="none" stroke="#AA0AAA" stroke-width="3.3" stroke-linejoin="round" stroke-linecap="round" clip-path="url(#clipc)"/>
<path d="M527.5,1604.3C528.3,1604.3 529.2,1604.3 530.0,1604.3C537.6,1604.3 545.1,1604.9 552.7,1605.5C560.3,1606.1 567.8,1609.7 575.4,1610.0C581.4,1610.3 587.5,1610.2 593.5,1610.5C597.3,1610.6 601.1,1612.3 604.9,1612.3C614.0,1612.3 623.0,1611.8 632.1,1611.8C641.9,1611.8 651.8,1611.8 661.6,1611.8C666.9,1611.8 672.2,1609.8 677.5,1608.9C683.9,1607.8 690.3,1607.9 696.8,1605.9C698.7,1605.3 700.6,1601.7 702.4,1599.8C704.7,1597.6 707.0,1593.7 709.2,1593.7C713.0,1593.7 716.8,1602.1 720.6,1602.1C723.6,1602.1 726.6,1600.9 729.7,1600.9C732.7,1600.9 735.7,1602.1 738.7,1602.1C741.8,1602.1 744.8,1600.5 747.8,1600.5C750.8,1600.5 753.9,1607.5 756.9,1607.7C759.9,1608.0 762.9,1607.9 766.0,1608.2C770.5,1608.6 775.0,1612.3 779.6,1612.3C783.4,1612.3 787.1,1610.5 790.9,1610.5C794.7,1610.5 798.5,1610.5 802.3,1610.5C807.2,1610.5 812.1,1608.4 817.0,1608.4C819.7,1608.4 822.3,1609.7 825.0,1610.0C831.0,1610.6 837.1,1611.1 843.1,1611.1C848.4,1611.1 853.7,1610.7 859.0,1610.0C863.5,1609.5 868.1,1605.0 872.6,1605.0C876.4,1605.0 880.2,1606.5 884.0,1607.7C887.0,1608.7 890.0,1611.8 893.0,1611.8C900.6,1611.8 908.2,1611.8 915.7,1611.8C921.0,1611.8 926.3,1611.6 931.6,1611.1C935.4,1610.8 939.2,1602.7 943.0,1602.7C946.4,1602.7 949.8,1608.4 953.2,1608.4C958.5,1608.4 963.8,1604.3 969.0,1604.3C971.7,1604.3 974.3,1607.7 977.0,1607.7C979.3,1607.7 981.5,1605.5 983.8,1605.5C987.2,1605.5 990.6,1608.9 994.0,1608.9C998.2,1608.9 1002.3,1600.9 1006.5,1600.9C1009.5,1600.9 1012.5,1602.7 1015.6,1602.7C1018.6,1602.7 1021.6,1601.8 1024.6,1600.9C1028.3,1599.9 1031.9,1594.6 1035.5,1594.6C1037.9,1594.6 1040.4,1595.4 1042.8,1596.4C1045.8,1597.6 1048.8,1604.2 1051.9,1605.5C1055.6,1607.1 1059.4,1608.4 1063.2,1608.4C1065.5,1608.4 1067.7,1605.8 1070.0,1605.2C1071.5,1604.7 1073.0,1604.3 1074.5,1604.3C1077.6,1604.3 1080.6,1609.0 1083.6,1609.2C1088.9,1609.7 1094.2,1609.9 1099.5,1609.9C1102.5,1609.9 1105.5,1605.2 1108.6,1605.2C1112.0,1605.2 1115.4,1609.2 1118.8,1609.2C1120.7,1609.2 1122.6,1608.0 1124.5,1607.0C1127.5,1605.4 1130.5,1599.0 1133.5,1599.0C1138.1,1599.0 1142.6,1605.8 1147.1,1605.8C1149.4,1605.8 1151.7,1605.1 1154.0,1604.3C1156.2,1603.4 1158.5,1599.0 1160.8,1599.0C1164.5,1599.0 1168.3,1610.4 1172.1,1611.1C1175.9,1611.8 1179.7,1612.2 1183.4,1612.2C1188.0,1612.2 1192.5,1607.0 1197.1,1605.2C1200.8,1603.6 1204.6,1602.9 1208.4,1601.3C1212.2,1599.7 1216.0,1595.2 1219.8,1595.2C1223.5,1595.2 1227.3,1598.4 1231.1,1598.4C1234.1,1598.4 1237.1,1597.9 1240.2,1597.9C1244.7,1597.9 1249.2,1602.4 1253.8,1602.4C1256.8,1602.4 1259.8,1599.8 1262.9,1597.9C1266.6,1595.6 1270.4,1589.4 1274.2,1588.4C1278.0,1587.4 1281.8,1586.8 1285.6,1586.6C1290.1,1586.3 1294.6,1586.4 1299.2,1586.1C1303.3,1585.9 1307.5,1584.9 1311.6,1583.2C1315.4,1581.6 1319.2,1567.3 1323.0,1567.3C1326.8,1567.3 1330.6,1572.9 1334.3,1572.9C1339.3,1572.9 1344.2,1567.3 1349.1,1567.3C1352.1,1567.3 1355.1,1567.7 1358.2,1567.7C1361.6,1567.7 1365.0,1563.9 1368.4,1563.9C1371.4,1563.9 1374.4,1567.7 1377.4,1567.7C1382.0,1567.7 1386.5,1555.9 1391.1,1555.9C1392.9,1555.9 1394.8,1561.9 1396.7,1566.1C1399.4,1572.0 1402.0,1590.0 1404.7,1590.0C1408.1,1590.0 1411.5,1583.8 1414.9,1583.8C1418.7,1583.8 1422.4,1585.1 1426.2,1586.6C1430.8,1588.3 1435.3,1599.0 1439.8,1599.0C1443.6,1599.0 1447.4,1595.2 1451.2,1595.2C1454.2,1595.2 1457.2,1602.7 1460.3,1603.6C1464.8,1604.9 1469.3,1605.1 1473.9,1605.8C1476.1,1606.2 1478.4,1606.4 1480.7,1607.0C1484.5,1607.9 1488.2,1612.2 1492.0,1612.2C1496.6,1612.2 1501.1,1604.1 1505.6,1599.0C1510.2,1594.0 1514.7,1588.7 1519.3,1580.9C1525.3,1570.4 1531.4,1545.6 1537.4,1534.4C1541.2,1527.4 1545.0,1527.3 1548.8,1517.4C1550.6,1512.4 1552.5,1492.1 1554.4,1479.9C1556.2,1468.7 1557.9,1447.0 1559.6,1447.0C1561.3,1447.0 1563.0,1461.6 1564.6,1475.4C1566.1,1487.9 1567.7,1524.2 1569.2,1543.4C1570.7,1562.6 1572.2,1587.3 1573.7,1593.4C1576.4,1604.0 1579.0,1610.7 1581.7,1611.5C1585.1,1612.5 1588.5,1613.1 1591.9,1613.1C1598.7,1613.1 1605.5,1611.5 1612.3,1611.5C1613.7,1611.5 1615.1,1611.5 1616.5,1611.5" fill="none" stroke="#F08223" stroke-width="3.3" stroke-linejoin="round" stroke-linecap="round" clip-path="url(#clipc)"/>
<path d="M527.5,1753.1C528.3,1753.1 529.2,1753.1 530.0,1753.1C552.7,1753.1 575.4,1754.9 598.1,1754.9C620.8,1754.9 643.4,1754.7 666.1,1754.4C676.7,1754.3 687.3,1753.6 697.9,1752.2C701.7,1751.6 705.5,1746.9 709.2,1746.9C712.3,1746.9 715.3,1750.4 718.3,1750.8C725.1,1751.7 731.9,1752.2 738.7,1752.2C741.4,1752.2 744.0,1749.9 746.7,1749.9C750.1,1749.9 753.5,1753.4 756.9,1753.7C764.5,1754.5 772.0,1754.9 779.6,1754.9C787.1,1754.9 794.7,1754.9 802.3,1754.9C806.1,1754.9 809.8,1753.1 813.6,1753.1C825.0,1753.1 836.3,1754.9 847.7,1754.9C852.2,1754.9 856.7,1754.7 861.3,1754.4C865.4,1754.2 869.6,1752.2 873.7,1752.2C877.2,1752.2 880.6,1754.3 884.0,1754.4C894.5,1754.8 905.1,1754.9 915.7,1754.9C921.8,1754.9 927.8,1754.5 933.9,1753.7C936.9,1753.4 939.9,1749.9 943.0,1749.9C946.0,1749.9 949.0,1753.1 952.0,1753.1C958.8,1753.1 965.6,1752.2 972.4,1752.2C980.0,1752.2 987.6,1752.6 995.1,1752.6C998.9,1752.6 1002.7,1747.6 1006.5,1747.6C1008.8,1747.6 1011.0,1748.7 1013.3,1748.7C1020.5,1748.7 1027.7,1748.1 1034.8,1748.1C1039.8,1748.1 1044.7,1750.9 1049.6,1751.5C1054.1,1752.0 1058.7,1752.6 1063.2,1752.6C1065.5,1752.6 1067.7,1752.2 1070.0,1751.9C1071.5,1751.7 1073.0,1751.2 1074.5,1751.2C1079.1,1751.2 1083.6,1754.2 1088.2,1754.2C1099.5,1754.2 1110.8,1754.0 1122.2,1753.7C1126.3,1753.6 1130.5,1751.2 1134.7,1751.2C1138.1,1751.2 1141.5,1753.0 1144.9,1753.0C1147.1,1753.0 1149.4,1752.4 1151.7,1751.9C1154.7,1751.2 1157.7,1748.5 1160.8,1748.5C1164.5,1748.5 1168.3,1754.8 1172.1,1754.8C1177.4,1754.8 1182.7,1754.5 1188.0,1754.2C1194.0,1753.8 1200.1,1752.9 1206.1,1751.9C1210.3,1751.2 1214.5,1749.2 1218.6,1749.2C1222.0,1749.2 1225.4,1751.2 1228.8,1751.2C1231.9,1751.2 1234.9,1750.8 1237.9,1750.8C1243.2,1750.8 1248.5,1754.2 1253.8,1754.2C1260.6,1754.2 1267.4,1752.6 1274.2,1752.6C1281.8,1752.6 1289.3,1753.0 1296.9,1753.0C1302.2,1753.0 1307.5,1751.6 1312.8,1750.8C1316.6,1750.1 1320.3,1748.5 1324.1,1748.5C1327.1,1748.5 1330.2,1750.8 1333.2,1750.8C1340.8,1750.8 1348.3,1750.5 1355.9,1750.1C1360.4,1749.8 1365.0,1746.7 1369.5,1746.7C1372.5,1746.7 1375.6,1749.6 1378.6,1749.6C1383.1,1749.6 1387.7,1740.5 1392.2,1740.5C1396.7,1740.5 1401.3,1750.8 1405.8,1750.8C1411.1,1750.8 1416.4,1744.4 1421.7,1744.4C1427.7,1744.4 1433.8,1745.1 1439.8,1745.1C1444.4,1745.1 1448.9,1744.0 1453.5,1744.0C1457.2,1744.0 1461.0,1744.5 1464.8,1745.1C1468.6,1745.7 1472.4,1748.8 1476.1,1749.6C1481.4,1750.8 1486.7,1751.9 1492.0,1751.9C1495.1,1751.9 1498.1,1748.5 1501.1,1748.5C1504.9,1748.5 1508.7,1751.2 1512.4,1751.2C1516.2,1751.2 1520.0,1750.8 1523.8,1750.3C1528.3,1749.7 1532.9,1745.6 1537.4,1741.7C1540.4,1739.1 1543.5,1736.4 1546.5,1730.3C1548.8,1725.8 1551.0,1710.9 1553.3,1700.8C1554.8,1694.2 1556.3,1680.4 1557.8,1680.4C1559.3,1680.4 1560.9,1691.4 1562.4,1698.6C1564.6,1709.3 1566.9,1734.2 1569.2,1739.4C1572.2,1746.4 1575.2,1750.9 1578.2,1751.9C1582.8,1753.3 1587.3,1754.2 1591.9,1754.2C1598.7,1754.2 1605.5,1754.2 1612.3,1754.2C1613.7,1754.2 1615.1,1754.2 1616.5,1754.2" fill="none" stroke="#B4B714" stroke-width="3.3" stroke-linejoin="round" stroke-linecap="round" clip-path="url(#clipc)"/>
<path d="M527.5,1841.1C528.3,1841.1 529.2,1841.1 530.0,1841.1C552.7,1841.1 575.4,1842.2 598.1,1842.2C631.3,1842.2 664.6,1842.1 697.9,1841.6C701.7,1841.5 705.5,1840.0 709.2,1840.0C712.3,1840.0 715.3,1841.6 718.3,1841.6C727.4,1841.6 736.5,1840.6 745.6,1840.6C756.9,1840.6 768.2,1842.2 779.6,1842.2C809.8,1842.2 840.1,1842.2 870.3,1842.2C893.0,1842.2 915.7,1841.8 938.4,1841.6C968.7,1841.2 998.9,1840.6 1029.2,1840.6C1042.8,1840.6 1056.4,1841.5 1070.0,1841.5C1085.1,1841.5 1100.3,1841.5 1115.4,1841.5C1130.5,1841.5 1145.6,1841.0 1160.8,1840.8C1175.9,1840.7 1191.0,1840.4 1206.1,1840.4C1221.3,1840.4 1236.4,1841.5 1251.5,1841.5C1266.6,1841.5 1281.8,1841.2 1296.9,1840.8C1306.0,1840.6 1315.0,1839.9 1324.1,1839.7C1337.7,1839.5 1351.4,1839.5 1365.0,1839.2C1373.3,1839.1 1381.6,1838.1 1389.9,1838.1C1396.7,1838.1 1403.5,1839.2 1410.3,1839.2C1414.9,1839.2 1419.4,1838.1 1424.0,1838.1C1434.5,1838.1 1445.1,1838.3 1455.7,1838.6C1470.9,1838.9 1486.0,1840.8 1501.1,1840.8C1514.7,1840.8 1528.3,1840.4 1541.9,1839.2C1545.0,1839.0 1548.0,1837.2 1551.0,1835.8C1553.7,1834.7 1556.3,1831.8 1559.0,1831.8C1561.6,1831.8 1564.3,1838.4 1566.9,1839.2C1571.4,1840.6 1576.0,1841.5 1580.5,1841.5C1591.1,1841.5 1601.7,1841.5 1612.3,1841.5C1613.7,1841.5 1615.1,1841.5 1616.5,1841.5" fill="none" stroke="#28828C" stroke-width="3.3" stroke-linejoin="round" stroke-linecap="round" clip-path="url(#clipc)"/>
<path d="M1820.5,1254.5C1821.3,1254.5 1822.2,1254.5 1823.0,1254.5C1838.0,1254.5 1853.1,1254.0 1868.1,1254.0C1879.4,1254.0 1890.7,1254.5 1902.0,1254.5C1913.3,1254.5 1924.5,1254.3 1935.8,1254.0C1943.4,1253.8 1950.9,1253.1 1958.4,1252.7C1968.2,1252.0 1978.0,1252.1 1987.7,1250.6C1990.0,1250.3 1992.2,1247.9 1994.5,1246.6C1997.1,1245.0 1999.8,1242.1 2002.4,1242.1C2006.2,1242.1 2009.9,1242.8 2013.7,1243.6C2016.3,1244.3 2019.0,1248.2 2021.6,1248.2C2025.3,1248.2 2029.1,1248.2 2032.9,1248.2C2035.9,1248.2 2038.9,1245.9 2041.9,1245.9C2046.4,1245.9 2050.9,1251.6 2055.4,1252.2C2060.7,1252.9 2066.0,1253.1 2071.2,1253.3C2078.8,1253.7 2086.3,1254.0 2093.8,1254.0C2098.7,1254.0 2103.6,1251.5 2108.5,1251.5C2112.6,1251.5 2116.7,1252.9 2120.9,1252.9C2123.5,1252.9 2126.1,1252.2 2128.8,1252.2C2131.8,1252.2 2134.8,1254.5 2137.8,1254.5C2141.9,1254.5 2146.1,1254.3 2150.2,1254.0C2153.6,1253.8 2157.0,1248.8 2160.4,1248.8C2163.0,1248.8 2165.6,1250.4 2168.3,1251.1C2172.8,1252.3 2177.3,1254.5 2181.8,1254.5C2190.1,1254.5 2198.4,1254.5 2206.6,1254.5C2212.3,1254.5 2217.9,1254.0 2223.6,1253.3C2228.1,1252.8 2232.6,1247.0 2237.1,1247.0C2241.2,1247.0 2245.4,1252.2 2249.5,1252.2C2257.8,1252.2 2266.1,1251.1 2274.3,1251.1C2278.8,1251.1 2283.4,1252.2 2287.9,1252.2C2291.6,1252.2 2295.4,1245.4 2299.1,1245.4C2302.2,1245.4 2305.2,1246.1 2308.2,1246.1C2314.9,1246.1 2321.7,1245.4 2328.5,1245.4C2332.2,1245.4 2336.0,1249.0 2339.8,1250.0C2343.9,1251.0 2348.0,1252.2 2352.2,1252.2C2354.8,1252.2 2357.4,1251.6 2360.0,1251.2C2362.6,1250.7 2365.3,1248.9 2367.9,1248.9C2372.1,1248.9 2376.3,1252.3 2380.4,1252.3C2391.0,1252.3 2401.6,1252.3 2412.2,1252.3C2417.1,1252.3 2422.0,1247.3 2426.9,1247.3C2431.1,1247.3 2435.3,1251.2 2439.4,1251.2C2444.0,1251.2 2448.5,1245.5 2453.0,1245.5C2456.8,1245.5 2460.6,1252.2 2464.4,1253.0C2468.9,1253.9 2473.4,1254.6 2478.0,1254.6C2481.0,1254.6 2484.0,1252.2 2487.1,1251.6C2491.6,1250.8 2496.1,1250.7 2500.7,1250.0C2504.1,1249.5 2507.5,1247.8 2510.9,1247.8C2515.0,1247.8 2519.2,1250.0 2523.4,1250.0C2526.4,1250.0 2529.4,1249.6 2532.4,1249.6C2537.0,1249.6 2541.5,1254.6 2546.1,1254.6C2551.3,1254.6 2556.6,1251.7 2561.9,1251.2C2571.0,1250.3 2580.1,1250.5 2589.2,1249.6C2594.5,1249.1 2599.8,1247.1 2605.0,1245.5C2608.5,1244.5 2611.9,1242.1 2615.3,1242.1C2619.0,1242.1 2622.8,1246.2 2626.6,1246.2C2630.8,1246.2 2634.9,1244.4 2639.1,1244.4C2642.9,1244.4 2646.6,1244.4 2650.4,1244.4C2653.5,1244.4 2656.5,1243.2 2659.5,1243.2C2663.7,1243.2 2667.8,1246.6 2672.0,1246.6C2676.5,1246.6 2681.1,1235.3 2685.6,1235.3C2690.5,1235.3 2695.4,1248.5 2700.3,1248.5C2703.4,1248.5 2706.4,1243.5 2709.4,1242.1C2713.2,1240.4 2717.0,1238.2 2720.8,1238.2C2724.5,1238.2 2728.3,1240.5 2732.1,1240.5C2735.1,1240.5 2738.2,1240.5 2741.2,1240.5C2745.7,1240.5 2750.3,1243.9 2754.8,1244.4C2757.8,1244.7 2760.9,1244.7 2763.9,1245.1C2766.9,1245.4 2769.9,1247.5 2773.0,1248.9C2776.7,1250.6 2780.5,1254.6 2784.3,1254.6C2788.1,1254.6 2791.9,1251.2 2795.6,1251.2C2799.4,1251.2 2803.2,1252.3 2807.0,1252.3C2811.5,1252.3 2816.1,1248.2 2820.6,1245.5C2825.9,1242.4 2831.2,1241.2 2836.5,1234.2C2838.8,1231.2 2841.0,1218.2 2843.3,1208.1C2846.2,1195.3 2849.0,1161.6 2851.9,1161.6C2854.0,1161.6 2856.0,1177.2 2858.0,1189.9C2859.9,1201.7 2861.8,1241.8 2863.7,1243.2C2868.2,1246.6 2872.8,1246.5 2877.3,1247.8C2881.9,1249.1 2886.4,1250.3 2890.9,1251.2C2895.9,1252.1 2900.8,1253.4 2905.7,1253.4C2907.0,1253.4 2908.2,1253.4 2909.5,1253.4" fill="none" stroke="#3CA85A" stroke-width="3.3" stroke-linejoin="round" stroke-linecap="round" clip-path="url(#clipd)"/>
<path d="M1820.5,1422.6C1821.3,1422.6 1822.2,1422.6 1823.0,1422.6C1838.0,1422.6 1853.1,1421.9 1868.1,1421.9C1874.2,1421.9 1880.2,1421.9 1886.2,1421.9C1889.2,1421.9 1892.2,1420.8 1895.2,1420.8C1898.2,1420.8 1901.2,1422.6 1904.2,1422.6C1922.3,1422.6 1940.3,1422.6 1958.4,1422.6C1968.9,1422.6 1979.5,1422.0 1990.0,1420.3C1992.2,1420.0 1994.5,1416.5 1996.8,1414.7C1998.6,1413.2 2000.5,1410.2 2002.4,1410.2C2005.8,1410.2 2009.2,1415.7 2012.6,1416.5C2017.8,1417.8 2023.1,1418.8 2028.4,1418.8C2032.5,1418.8 2036.6,1414.7 2040.8,1414.7C2044.1,1414.7 2047.5,1420.6 2050.9,1421.0C2057.7,1421.8 2064.5,1422.1 2071.2,1422.1C2079.5,1422.1 2087.8,1422.1 2096.1,1422.1C2100.2,1422.1 2104.3,1419.7 2108.5,1419.7C2111.1,1419.7 2113.7,1421.2 2116.4,1421.5C2123.9,1422.1 2131.4,1422.6 2138.9,1422.6C2143.4,1422.6 2148.0,1422.6 2152.5,1422.6C2156.6,1422.6 2160.7,1418.8 2164.9,1418.8C2169.0,1418.8 2173.2,1421.9 2177.3,1421.9C2187.1,1421.9 2196.8,1421.9 2206.6,1421.9C2213.0,1421.9 2219.4,1421.6 2225.8,1421.0C2229.2,1420.7 2232.6,1414.7 2236.0,1414.7C2239.3,1414.7 2242.7,1419.2 2246.1,1419.2C2251.8,1419.2 2257.4,1418.1 2263.0,1418.1C2266.8,1418.1 2270.6,1418.1 2274.3,1418.1C2278.8,1418.1 2283.4,1419.2 2287.9,1419.2C2291.6,1419.2 2295.4,1412.4 2299.1,1412.4C2302.2,1412.4 2305.2,1414.7 2308.2,1414.7C2314.2,1414.7 2320.2,1413.6 2326.2,1413.6C2330.7,1413.6 2335.3,1417.9 2339.8,1418.8C2344.3,1419.6 2348.8,1420.3 2353.3,1420.3C2355.5,1420.3 2357.8,1419.6 2360.0,1419.1C2362.6,1418.5 2365.3,1416.8 2367.9,1416.8C2372.1,1416.8 2376.3,1420.8 2380.4,1420.9C2391.8,1421.2 2403.1,1421.4 2414.5,1421.4C2418.2,1421.4 2422.0,1416.4 2425.8,1416.4C2430.0,1416.4 2434.1,1420.7 2438.3,1420.7C2440.5,1420.7 2442.8,1419.9 2445.1,1419.1C2448.1,1418.0 2451.1,1412.3 2454.2,1412.3C2457.9,1412.3 2461.7,1422.5 2465.5,1422.5C2469.7,1422.5 2473.8,1422.3 2478.0,1422.0C2481.0,1421.8 2484.0,1420.6 2487.1,1420.2C2491.6,1419.7 2496.1,1419.7 2500.7,1419.1C2504.5,1418.6 2508.2,1414.5 2512.0,1414.5C2515.8,1414.5 2519.6,1417.9 2523.4,1417.9C2526.4,1417.9 2529.4,1417.3 2532.4,1417.3C2537.7,1417.3 2543.0,1422.5 2548.3,1422.5C2553.6,1422.5 2558.9,1420.2 2564.2,1420.2C2573.3,1420.2 2582.4,1421.4 2591.4,1421.4C2596.7,1421.4 2602.0,1418.9 2607.3,1417.3C2610.7,1416.2 2614.1,1413.4 2617.5,1413.4C2620.9,1413.4 2624.3,1417.3 2627.7,1417.3C2631.5,1417.3 2635.3,1415.9 2639.1,1415.7C2642.9,1415.4 2646.6,1415.5 2650.4,1415.2C2654.2,1414.9 2658.0,1410.5 2661.8,1410.5C2665.2,1410.5 2668.6,1414.1 2672.0,1414.1C2676.5,1414.1 2681.1,1400.5 2685.6,1400.5C2689.8,1400.5 2693.9,1415.2 2698.1,1415.2C2701.9,1415.2 2705.6,1408.6 2709.4,1407.7C2713.2,1406.9 2717.0,1406.1 2720.8,1406.1C2728.3,1406.1 2735.9,1406.1 2743.5,1406.1C2748.0,1406.1 2752.5,1410.3 2757.1,1412.3C2761.6,1414.2 2766.1,1416.4 2770.7,1417.9C2776.0,1419.8 2781.3,1422.5 2786.6,1422.5C2790.0,1422.5 2793.4,1420.7 2796.8,1420.7C2800.2,1420.7 2803.6,1422.5 2807.0,1422.5C2811.5,1422.5 2816.1,1422.0 2820.6,1421.4C2825.9,1420.6 2831.2,1415.4 2836.5,1405.5C2839.1,1400.5 2841.8,1366.6 2844.4,1355.6C2847.2,1343.9 2850.0,1329.5 2852.8,1329.5C2854.6,1329.5 2856.3,1336.4 2858.0,1344.2C2859.5,1351.0 2861.1,1379.4 2862.6,1389.6C2864.5,1402.3 2866.4,1416.6 2868.2,1417.9C2872.8,1421.2 2877.3,1422.2 2881.9,1422.5C2889.8,1422.9 2897.7,1423.2 2905.7,1423.2C2907.0,1423.2 2908.2,1423.2 2909.5,1423.2" fill="none" stroke="#E19141" stroke-width="3.3" stroke-linejoin="round" stroke-linecap="round" clip-path="url(#clipd)"/>
<path d="M1820.5,1570.6C1821.3,1570.6 1822.2,1570.6 1823.0,1570.6C1838.0,1570.6 1853.1,1571.2 1868.1,1571.7C1883.2,1572.2 1898.2,1573.5 1913.3,1573.5C1928.3,1573.5 1943.4,1573.2 1958.4,1572.8C1968.9,1572.6 1979.5,1572.0 1990.0,1570.1C1992.2,1569.7 1994.5,1567.2 1996.8,1566.1C1998.8,1565.0 2000.8,1563.4 2002.9,1563.4C2005.3,1563.4 2007.8,1567.5 2010.3,1567.9C2017.1,1568.9 2023.8,1569.4 2030.6,1569.4C2033.6,1569.4 2036.6,1567.2 2039.6,1567.2C2043.4,1567.2 2047.2,1570.7 2050.9,1571.3C2057.7,1572.2 2064.5,1572.8 2071.2,1572.8C2077.2,1572.8 2083.3,1572.4 2089.3,1572.4C2091.5,1572.4 2093.8,1573.3 2096.1,1573.3C2099.8,1573.3 2103.6,1571.3 2107.3,1571.3C2111.8,1571.3 2116.4,1572.7 2120.9,1572.8C2131.4,1573.1 2141.9,1573.3 2152.5,1573.3C2157.4,1573.3 2162.2,1570.1 2167.1,1570.1C2170.5,1570.1 2173.9,1572.8 2177.3,1572.8C2187.1,1572.8 2196.8,1572.6 2206.6,1572.4C2213.4,1572.2 2220.2,1572.2 2226.9,1571.7C2229.9,1571.5 2233.0,1566.7 2236.0,1566.7C2239.0,1566.7 2242.0,1571.0 2245.0,1571.0C2251.0,1571.0 2257.0,1570.4 2263.0,1570.1C2267.6,1569.9 2272.1,1569.4 2276.6,1569.4C2280.7,1569.4 2284.9,1570.6 2289.0,1570.6C2292.8,1570.6 2296.5,1564.5 2300.3,1564.5C2302.9,1564.5 2305.5,1566.1 2308.2,1566.1C2314.9,1566.1 2321.7,1565.4 2328.5,1565.4C2333.0,1565.4 2337.5,1568.2 2342.0,1569.0C2346.2,1569.7 2350.3,1570.4 2354.4,1570.6C2356.3,1570.7 2358.1,1570.7 2360.0,1570.7C2362.3,1570.7 2364.5,1568.5 2366.8,1568.5C2371.3,1568.5 2375.9,1571.9 2380.4,1571.9C2391.8,1571.9 2403.1,1571.7 2414.5,1571.2C2418.6,1571.0 2422.8,1567.8 2426.9,1567.8C2429.6,1567.8 2432.2,1570.5 2434.9,1570.5C2438.3,1570.5 2441.7,1570.3 2445.1,1570.0C2448.1,1569.8 2451.1,1564.8 2454.2,1564.8C2457.9,1564.8 2461.7,1572.7 2465.5,1573.0C2469.7,1573.3 2473.8,1573.4 2478.0,1573.4C2482.5,1573.4 2487.1,1571.4 2491.6,1570.7C2495.0,1570.2 2498.4,1570.0 2501.8,1569.4C2505.2,1568.7 2508.6,1565.5 2512.0,1565.5C2515.0,1565.5 2518.1,1568.5 2521.1,1568.5C2524.9,1568.5 2528.7,1568.5 2532.4,1568.5C2537.7,1568.5 2543.0,1572.3 2548.3,1572.3C2553.6,1572.3 2558.9,1570.8 2564.2,1570.7C2571.8,1570.6 2579.3,1570.6 2586.9,1570.5C2592.9,1570.4 2599.0,1569.5 2605.0,1568.5C2608.8,1567.8 2612.6,1564.8 2616.4,1564.8C2620.2,1564.8 2624.0,1568.2 2627.7,1568.2C2631.5,1568.2 2635.3,1566.6 2639.1,1566.6C2642.1,1566.6 2645.1,1567.1 2648.2,1567.1C2652.7,1567.1 2657.2,1563.2 2661.8,1563.2C2665.2,1563.2 2668.6,1566.2 2672.0,1566.2C2676.9,1566.2 2681.8,1555.3 2686.7,1555.3C2690.9,1555.3 2695.1,1568.5 2699.2,1568.5C2702.6,1568.5 2706.0,1563.5 2709.4,1562.1C2712.4,1560.8 2715.5,1559.2 2718.5,1559.2C2723.8,1559.2 2729.1,1561.0 2734.4,1561.0C2738.2,1561.0 2741.9,1559.2 2745.7,1559.2C2749.5,1559.2 2753.3,1559.7 2757.1,1560.3C2761.6,1561.0 2766.1,1565.4 2770.7,1566.6C2775.2,1567.9 2779.8,1569.4 2784.3,1569.4C2788.1,1569.4 2791.9,1565.1 2795.6,1565.1C2798.7,1565.1 2801.7,1568.5 2804.7,1568.5C2809.3,1568.5 2813.8,1567.6 2818.3,1566.6C2823.6,1565.5 2828.9,1561.8 2834.2,1555.3C2837.2,1551.6 2840.3,1539.9 2843.3,1528.1C2846.2,1516.9 2849.0,1480.4 2851.9,1480.4C2854.0,1480.4 2856.0,1494.3 2858.0,1505.4C2860.3,1517.7 2862.6,1558.4 2864.8,1562.1C2868.2,1567.6 2871.7,1570.1 2875.1,1570.7C2881.1,1571.8 2887.2,1572.0 2893.2,1572.3C2897.4,1572.5 2901.5,1572.8 2905.7,1572.8C2907.0,1572.8 2908.2,1572.8 2909.5,1572.8" fill="none" stroke="#D4C319" stroke-width="3.3" stroke-linejoin="round" stroke-linecap="round" clip-path="url(#clipd)"/>
<path d="M1820.5,1738.7C1821.3,1738.7 1822.2,1738.7 1823.0,1738.7C1838.0,1738.7 1853.1,1739.9 1868.1,1740.5C1883.2,1741.1 1898.2,1742.1 1913.3,1742.1C1928.3,1742.1 1943.4,1741.9 1958.4,1741.6C1968.9,1741.4 1979.5,1741.1 1990.0,1739.8C1992.2,1739.5 1994.5,1737.4 1996.8,1736.4C1999.0,1735.4 2001.3,1733.7 2003.5,1733.7C2007.3,1733.7 2011.1,1738.2 2014.8,1738.2C2018.6,1738.2 2022.3,1736.4 2026.1,1736.4C2028.4,1736.4 2030.6,1738.7 2032.9,1738.7C2035.5,1738.7 2038.1,1736.4 2040.8,1736.4C2044.1,1736.4 2047.5,1740.6 2050.9,1740.9C2057.7,1741.7 2064.5,1742.1 2071.2,1742.1C2078.8,1742.1 2086.3,1742.1 2093.8,1742.1C2097.6,1742.1 2101.3,1739.8 2105.1,1739.8C2108.8,1739.8 2112.6,1741.5 2116.4,1741.6C2123.9,1741.9 2131.4,1742.1 2138.9,1742.1C2143.4,1742.1 2148.0,1741.9 2152.5,1741.6C2157.7,1741.3 2163.0,1739.1 2168.3,1739.1C2173.5,1739.1 2178.8,1742.1 2184.1,1742.1C2197.6,1742.1 2211.1,1742.1 2224.7,1742.1C2228.8,1742.1 2233.0,1736.4 2237.1,1736.4C2239.7,1736.4 2242.4,1740.5 2245.0,1740.5C2254.8,1740.5 2264.5,1739.8 2274.3,1739.8C2279.6,1739.8 2284.9,1740.5 2290.1,1740.5C2293.5,1740.5 2296.9,1734.9 2300.3,1734.9C2303.7,1734.9 2307.0,1737.1 2310.4,1737.1C2316.4,1737.1 2322.5,1736.0 2328.5,1736.0C2332.2,1736.0 2336.0,1739.2 2339.8,1739.8C2344.3,1740.6 2348.8,1741.4 2353.3,1741.4C2355.5,1741.4 2357.8,1740.6 2360.0,1740.2C2362.6,1739.7 2365.3,1738.6 2367.9,1738.6C2372.1,1738.6 2376.3,1741.4 2380.4,1741.4C2391.8,1741.4 2403.1,1741.4 2414.5,1741.4C2418.6,1741.4 2422.8,1737.9 2426.9,1737.9C2430.0,1737.9 2433.0,1740.2 2436.0,1740.2C2438.3,1740.2 2440.5,1737.3 2442.8,1737.3C2444.7,1737.3 2446.6,1737.3 2448.5,1737.3C2450.8,1737.3 2453.0,1734.5 2455.3,1734.5C2458.7,1734.5 2462.1,1741.8 2465.5,1741.8C2471.2,1741.8 2476.9,1741.6 2482.5,1741.4C2488.6,1741.1 2494.6,1739.4 2500.7,1737.9C2505.2,1736.8 2509.8,1733.4 2514.3,1733.4C2517.3,1733.4 2520.3,1736.4 2523.4,1736.4C2526.4,1736.4 2529.4,1734.5 2532.4,1734.5C2537.0,1734.5 2541.5,1738.6 2546.1,1738.6C2550.2,1738.6 2554.4,1734.5 2558.5,1734.5C2564.2,1734.5 2569.9,1735.7 2575.6,1735.7C2581.6,1735.7 2587.7,1735.2 2593.7,1734.5C2598.2,1734.1 2602.8,1731.9 2607.3,1730.0C2610.7,1728.6 2614.1,1724.8 2617.5,1724.8C2620.9,1724.8 2624.3,1727.7 2627.7,1727.7C2633.8,1727.7 2639.8,1725.9 2645.9,1723.9C2651.2,1722.1 2656.5,1711.4 2661.8,1711.4C2665.9,1711.4 2670.1,1718.2 2674.3,1718.2C2678.0,1718.2 2681.8,1713.7 2685.6,1713.7C2690.1,1713.7 2694.7,1726.6 2699.2,1726.6C2705.3,1726.6 2711.3,1719.1 2717.4,1719.1C2723.0,1719.1 2728.7,1720.9 2734.4,1720.9C2738.2,1720.9 2741.9,1718.7 2745.7,1718.7C2750.3,1718.7 2754.8,1720.1 2759.3,1721.4C2763.1,1722.5 2766.9,1725.5 2770.7,1726.6C2775.2,1727.9 2779.8,1729.3 2784.3,1729.3C2788.1,1729.3 2791.9,1724.3 2795.6,1724.3C2798.7,1724.3 2801.7,1727.7 2804.7,1727.7C2808.5,1727.7 2812.3,1727.6 2816.1,1727.3C2819.8,1727.0 2823.6,1721.5 2827.4,1718.7C2830.4,1716.4 2833.5,1715.7 2836.5,1711.9C2838.8,1708.9 2841.0,1695.6 2843.3,1686.9C2846.2,1675.9 2849.0,1652.4 2851.9,1652.4C2854.0,1652.4 2856.0,1666.4 2858.0,1677.8C2859.9,1688.4 2861.8,1721.9 2863.7,1725.5C2867.5,1732.6 2871.3,1734.5 2875.1,1736.4C2879.6,1738.6 2884.1,1740.1 2888.7,1740.7C2894.3,1741.4 2900.0,1742.0 2905.7,1742.0C2907.0,1742.0 2908.2,1742.0 2909.5,1742.0" fill="none" stroke="#19A5D7" stroke-width="3.3" stroke-linejoin="round" stroke-linecap="round" clip-path="url(#clipd)"/>
<path d="M1820.5,1890.6C1821.3,1890.6 1822.2,1890.6 1823.0,1890.6C1838.0,1890.6 1853.1,1890.1 1868.1,1890.1C1883.2,1890.1 1898.2,1890.6 1913.3,1890.6C1928.3,1890.6 1943.4,1890.0 1958.4,1889.4C1968.9,1889.0 1979.5,1888.8 1990.0,1887.2C1992.2,1886.9 1994.5,1885.0 1996.8,1883.8C1998.6,1882.8 2000.5,1880.9 2002.4,1880.9C2005.8,1880.9 2009.2,1884.5 2012.6,1884.9C2018.6,1885.6 2024.6,1886.1 2030.6,1886.1C2033.6,1886.1 2036.6,1884.3 2039.6,1884.3C2043.4,1884.3 2047.2,1888.6 2050.9,1889.0C2057.7,1889.7 2064.5,1890.1 2071.2,1890.1C2081.0,1890.1 2090.8,1889.9 2100.6,1889.4C2103.2,1889.3 2105.8,1888.3 2108.5,1888.3C2111.8,1888.3 2115.2,1889.9 2118.6,1889.9C2122.4,1889.9 2126.1,1888.3 2129.9,1888.3C2132.9,1888.3 2135.9,1890.6 2138.9,1890.6C2143.4,1890.6 2148.0,1890.4 2152.5,1890.1C2156.6,1889.9 2160.7,1887.2 2164.9,1887.2C2169.8,1887.2 2174.7,1890.1 2179.5,1890.1C2188.6,1890.1 2197.6,1890.1 2206.6,1890.1C2212.6,1890.1 2218.7,1890.1 2224.7,1889.9C2228.1,1889.8 2231.4,1884.9 2234.8,1884.9C2238.2,1884.9 2241.6,1889.4 2245.0,1889.4C2251.0,1889.4 2257.0,1888.6 2263.0,1888.3C2267.6,1888.1 2272.1,1887.9 2276.6,1887.9C2280.7,1887.9 2284.9,1888.8 2289.0,1888.8C2292.8,1888.8 2296.5,1883.4 2300.3,1883.4C2302.9,1883.4 2305.5,1884.3 2308.2,1884.3C2314.2,1884.3 2320.2,1883.4 2326.2,1883.4C2330.7,1883.4 2335.3,1887.3 2339.8,1887.9C2344.3,1888.5 2348.8,1889.0 2353.3,1889.0C2355.5,1889.0 2357.8,1889.0 2360.0,1888.9C2362.3,1888.9 2364.5,1886.6 2366.8,1886.6C2371.3,1886.6 2375.9,1890.0 2380.4,1890.0C2391.8,1890.0 2403.1,1889.9 2414.5,1889.6C2418.6,1889.5 2422.8,1885.5 2426.9,1885.5C2429.6,1885.5 2432.2,1888.2 2434.9,1888.2C2438.7,1888.2 2442.4,1887.0 2446.2,1886.0C2448.9,1885.2 2451.5,1882.6 2454.2,1882.6C2457.9,1882.6 2461.7,1891.2 2465.5,1891.2C2471.2,1891.2 2476.9,1890.7 2482.5,1890.0C2487.8,1889.5 2493.1,1886.9 2498.4,1885.5C2502.9,1884.3 2507.5,1882.1 2512.0,1882.1C2515.8,1882.1 2519.6,1884.4 2523.4,1884.4C2526.4,1884.4 2529.4,1884.4 2532.4,1884.4C2537.0,1884.4 2541.5,1887.1 2546.1,1887.1C2550.6,1887.1 2555.1,1884.0 2559.7,1883.9C2565.0,1883.8 2570.3,1883.8 2575.6,1883.7C2580.8,1883.6 2586.1,1883.5 2591.4,1883.2C2596.0,1883.0 2600.5,1881.7 2605.0,1880.5C2608.5,1879.6 2611.9,1876.4 2615.3,1876.4C2619.4,1876.4 2623.6,1877.6 2627.7,1877.6C2633.8,1877.6 2639.8,1877.1 2645.9,1876.4C2650.8,1875.9 2655.7,1871.9 2660.6,1871.9C2664.4,1871.9 2668.2,1875.3 2672.0,1875.3C2676.1,1875.3 2680.3,1868.5 2684.5,1868.5C2689.0,1868.5 2693.5,1881.6 2698.1,1881.6C2703.4,1881.6 2708.7,1875.3 2714.0,1875.3C2720.0,1875.3 2726.1,1879.2 2732.1,1879.2C2736.6,1879.2 2741.2,1878.7 2745.7,1878.7C2750.3,1878.7 2754.8,1880.9 2759.3,1882.6C2762.4,1883.7 2765.4,1886.0 2768.4,1887.1C2773.7,1888.9 2779.0,1891.2 2784.3,1891.2C2788.8,1891.2 2793.4,1887.1 2797.9,1886.2C2803.2,1885.1 2808.5,1885.1 2813.8,1883.9C2818.3,1882.9 2822.9,1879.7 2827.4,1876.4C2830.4,1874.2 2833.5,1872.2 2836.5,1867.4C2838.8,1863.7 2841.0,1852.7 2843.3,1843.5C2845.9,1832.8 2848.6,1805.0 2851.2,1805.0C2853.1,1805.0 2855.0,1823.9 2856.9,1836.7C2858.4,1847.0 2859.9,1873.3 2861.4,1875.3C2864.5,1879.2 2867.5,1879.8 2870.5,1881.0C2876.6,1883.2 2882.6,1884.5 2888.7,1885.5C2894.3,1886.5 2900.0,1887.8 2905.7,1887.8C2907.0,1887.8 2908.2,1887.8 2909.5,1887.8" fill="none" stroke="#C84B5A" stroke-width="3.3" stroke-linejoin="round" stroke-linecap="round" clip-path="url(#clipd)"/>
<rect x="1487.0" y="10" width="15.6" height="863" fill="rgb(243,105,5)" fill-opacity="0.42"/>
<line x1="2852.40" y1="8.5" x2="2852.40" y2="874.5" stroke="#1FA0D2" stroke-width="3.3" stroke-dasharray="13.9 14.18" stroke-dashoffset="11.83" stroke-linecap="round"/>
<line x1="1559.40" y1="1073.5" x2="1559.40" y2="1939.5" stroke="#3CAA5A" stroke-width="3.3" stroke-dasharray="13.9 14.18" stroke-dashoffset="11.83" stroke-linecap="round"/>
<rect x="530.5" y="8.5" width="1083.0" height="866.0" fill="none" stroke="#000" stroke-width="3"/>
<path d="M665.88,874.5V860.0M801.25,874.5V867.0M936.62,874.5V860.0M1072.00,874.5V867.0M1207.38,874.5V860.0M1342.75,874.5V867.0M1478.12,874.5V860.0" stroke="#000" stroke-width="2.9" fill="none"/>
<rect x="1823.5" y="8.5" width="1083.0" height="866.0" fill="none" stroke="#000" stroke-width="3"/>
<path d="M1967.90,874.5V860.0M2112.30,874.5V867.0M2256.70,874.5V860.0M2401.10,874.5V867.0M2545.50,874.5V860.0M2689.90,874.5V867.0M2834.30,874.5V860.0" stroke="#000" stroke-width="2.9" fill="none"/>
<rect x="530.5" y="1073.5" width="1083.0" height="866.0" fill="none" stroke="#000" stroke-width="3"/>
<path d="M674.90,1939.5V1925.0M819.30,1939.5V1932.0M963.70,1939.5V1925.0M1108.10,1939.5V1932.0M1252.50,1939.5V1925.0M1396.90,1939.5V1932.0M1541.30,1939.5V1925.0" stroke="#000" stroke-width="2.9" fill="none"/>
<rect x="1823.5" y="1073.5" width="1083.0" height="866.0" fill="none" stroke="#000" stroke-width="3"/>
<path d="M1967.90,1939.5V1925.0M2112.30,1939.5V1932.0M2256.70,1939.5V1925.0M2401.10,1939.5V1932.0M2545.50,1939.5V1925.0M2689.90,1939.5V1932.0M2834.30,1939.5V1925.0" stroke="#000" stroke-width="2.9" fill="none"/>
<text x="440.30" y="49.10" font-size="50" textLength="65.59" lengthAdjust="spacingAndGlyphs">(a)</text>
<text x="551.19" y="69.20" font-size="50" textLength="86.94" lengthAdjust="spacingAndGlyphs">MB</text>
<text x="1361.86" y="69.60" font-size="50" textLength="110.10" lengthAdjust="spacingAndGlyphs">1624</text>
<text x="625.51" y="929.20" font-size="50" textLength="81.74" lengthAdjust="spacingAndGlyphs">400</text>
<text x="895.22" y="929.20" font-size="50" textLength="82.80" lengthAdjust="spacingAndGlyphs">800</text>
<text x="1150.17" y="929.20" font-size="50" textLength="111.63" lengthAdjust="spacingAndGlyphs">1200</text>
<text x="1420.92" y="929.20" font-size="50" textLength="111.63" lengthAdjust="spacingAndGlyphs">1600</text>
<text x="847.07" y="1002.00" font-size="50" textLength="169.94" lengthAdjust="spacingAndGlyphs">Raman</text>
<text x="1036.27" y="1002.00" font-size="50" textLength="105.48" lengthAdjust="spacingAndGlyphs">shift</text>
<line x1="1149.40" y1="1012.90" x2="1167.90" y2="966.70" stroke="#000" stroke-width="2.7"/>
<text x="1171.54" y="1002.00" font-size="50" textLength="69.35" lengthAdjust="spacingAndGlyphs">cm</text>
<text x="1246.46" y="991.00" font-size="35" textLength="27.63" lengthAdjust="spacingAndGlyphs">−</text>
<text x="1277.40" y="987.30" font-size="35" textLength="18.18" lengthAdjust="spacingAndGlyphs">1</text>
<text x="478.60" y="679.39" font-size="50" textLength="212.03" lengthAdjust="spacingAndGlyphs" transform="rotate(-90 478.60 679.39)">Intensity</text>
<line x1="443.90" y1="442.40" x2="490.20" y2="461.20" stroke="#000" stroke-width="2.7"/>
<text x="478.60" y="437.75" font-size="50" textLength="93.27" lengthAdjust="spacingAndGlyphs" transform="rotate(-90 478.60 437.75)">arb.</text>
<text x="478.60" y="322.11" font-size="50" textLength="119.74" lengthAdjust="spacingAndGlyphs" transform="rotate(-90 478.60 322.11)">units</text>
<text x="1733.40" y="49.10" font-size="50" textLength="69.11" lengthAdjust="spacingAndGlyphs">(b)</text>
<text x="1844.19" y="69.20" font-size="50" textLength="86.94" lengthAdjust="spacingAndGlyphs">MB</text>
<text x="2721.39" y="69.60" font-size="50" textLength="110.10" lengthAdjust="spacingAndGlyphs">1624</text>
<text x="1927.54" y="929.20" font-size="50" textLength="81.74" lengthAdjust="spacingAndGlyphs">400</text>
<text x="2215.30" y="929.20" font-size="50" textLength="82.80" lengthAdjust="spacingAndGlyphs">800</text>
<text x="2488.29" y="929.20" font-size="50" textLength="111.63" lengthAdjust="spacingAndGlyphs">1200</text>
<text x="2777.09" y="929.20" font-size="50" textLength="111.63" lengthAdjust="spacingAndGlyphs">1600</text>
<text x="2140.07" y="1002.00" font-size="50" textLength="169.94" lengthAdjust="spacingAndGlyphs">Raman</text>
<text x="2329.27" y="1002.00" font-size="50" textLength="105.48" lengthAdjust="spacingAndGlyphs">shift</text>
<line x1="2442.40" y1="1012.90" x2="2460.90" y2="966.70" stroke="#000" stroke-width="2.7"/>
<text x="2464.54" y="1002.00" font-size="50" textLength="69.35" lengthAdjust="spacingAndGlyphs">cm</text>
<text x="2539.46" y="991.00" font-size="35" textLength="27.63" lengthAdjust="spacingAndGlyphs">−</text>
<text x="2570.40" y="987.30" font-size="35" textLength="18.18" lengthAdjust="spacingAndGlyphs">1</text>
<text x="1771.60" y="679.39" font-size="50" textLength="212.03" lengthAdjust="spacingAndGlyphs" transform="rotate(-90 1771.60 679.39)">Intensity</text>
<line x1="1736.90" y1="442.40" x2="1783.20" y2="461.20" stroke="#000" stroke-width="2.7"/>
<text x="1771.60" y="437.75" font-size="50" textLength="93.27" lengthAdjust="spacingAndGlyphs" transform="rotate(-90 1771.60 437.75)">arb.</text>
<text x="1771.60" y="322.11" font-size="50" textLength="119.74" lengthAdjust="spacingAndGlyphs" transform="rotate(-90 1771.60 322.11)">units</text>
<text x="440.20" y="1114.10" font-size="50" textLength="63.10" lengthAdjust="spacingAndGlyphs">(c)</text>
<text x="551.19" y="1134.20" font-size="50" textLength="86.94" lengthAdjust="spacingAndGlyphs">MB</text>
<text x="1428.39" y="1134.60" font-size="50" textLength="110.10" lengthAdjust="spacingAndGlyphs">1624</text>
<text x="634.54" y="1994.20" font-size="50" textLength="81.74" lengthAdjust="spacingAndGlyphs">400</text>
<text x="922.30" y="1994.20" font-size="50" textLength="82.80" lengthAdjust="spacingAndGlyphs">800</text>
<text x="1195.29" y="1994.20" font-size="50" textLength="111.63" lengthAdjust="spacingAndGlyphs">1200</text>
<text x="1484.09" y="1994.20" font-size="50" textLength="111.63" lengthAdjust="spacingAndGlyphs">1600</text>
<text x="847.07" y="2067.00" font-size="50" textLength="169.94" lengthAdjust="spacingAndGlyphs">Raman</text>
<text x="1036.27" y="2067.00" font-size="50" textLength="105.48" lengthAdjust="spacingAndGlyphs">shift</text>
<line x1="1149.40" y1="2077.90" x2="1167.90" y2="2031.70" stroke="#000" stroke-width="2.7"/>
<text x="1171.54" y="2067.00" font-size="50" textLength="69.35" lengthAdjust="spacingAndGlyphs">cm</text>
<text x="1246.46" y="2056.00" font-size="35" textLength="27.63" lengthAdjust="spacingAndGlyphs">−</text>
<text x="1277.40" y="2052.30" font-size="35" textLength="18.18" lengthAdjust="spacingAndGlyphs">1</text>
<text x="478.60" y="1744.39" font-size="50" textLength="212.03" lengthAdjust="spacingAndGlyphs" transform="rotate(-90 478.60 1744.39)">Intensity</text>
<line x1="443.90" y1="1507.40" x2="490.20" y2="1526.20" stroke="#000" stroke-width="2.7"/>
<text x="478.60" y="1502.75" font-size="50" textLength="93.27" lengthAdjust="spacingAndGlyphs" transform="rotate(-90 478.60 1502.75)">arb.</text>
<text x="478.60" y="1387.11" font-size="50" textLength="119.74" lengthAdjust="spacingAndGlyphs" transform="rotate(-90 478.60 1387.11)">units</text>
<text x="1732.18" y="1114.10" font-size="50" textLength="72.25" lengthAdjust="spacingAndGlyphs">(d)</text>
<text x="1844.19" y="1134.20" font-size="50" textLength="86.94" lengthAdjust="spacingAndGlyphs">MB</text>
<text x="2721.39" y="1134.60" font-size="50" textLength="110.10" lengthAdjust="spacingAndGlyphs">1624</text>
<text x="1927.54" y="1994.20" font-size="50" textLength="81.74" lengthAdjust="spacingAndGlyphs">400</text>
<text x="2215.30" y="1994.20" font-size="50" textLength="82.80" lengthAdjust="spacingAndGlyphs">800</text>
<text x="2488.29" y="1994.20" font-size="50" textLength="111.63" lengthAdjust="spacingAndGlyphs">1200</text>
<text x="2777.09" y="1994.20" font-size="50" textLength="111.63" lengthAdjust="spacingAndGlyphs">1600</text>
<text x="2140.07" y="2067.00" font-size="50" textLength="169.94" lengthAdjust="spacingAndGlyphs">Raman</text>
<text x="2329.27" y="2067.00" font-size="50" textLength="105.48" lengthAdjust="spacingAndGlyphs">shift</text>
<line x1="2442.40" y1="2077.90" x2="2460.90" y2="2031.70" stroke="#000" stroke-width="2.7"/>
<text x="2464.54" y="2067.00" font-size="50" textLength="69.35" lengthAdjust="spacingAndGlyphs">cm</text>
<text x="2539.46" y="2056.00" font-size="35" textLength="27.63" lengthAdjust="spacingAndGlyphs">−</text>
<text x="2570.40" y="2052.30" font-size="35" textLength="18.18" lengthAdjust="spacingAndGlyphs">1</text>
<text x="1771.60" y="1744.39" font-size="50" textLength="212.03" lengthAdjust="spacingAndGlyphs" transform="rotate(-90 1771.60 1744.39)">Intensity</text>
<line x1="1736.90" y1="1507.40" x2="1783.20" y2="1526.20" stroke="#000" stroke-width="2.7"/>
<text x="1771.60" y="1502.75" font-size="50" textLength="93.27" lengthAdjust="spacingAndGlyphs" transform="rotate(-90 1771.60 1502.75)">arb.</text>
<text x="1771.60" y="1387.11" font-size="50" textLength="119.74" lengthAdjust="spacingAndGlyphs" transform="rotate(-90 1771.60 1387.11)">units</text>
<text x="551.23" y="365.00" font-size="50" textLength="92.50" lengthAdjust="spacingAndGlyphs">Tap</text>
<text x="666.94" y="365.00" font-size="50" textLength="127.56" lengthAdjust="spacingAndGlyphs">water</text>
<text x="550.66" y="734.60" font-size="50" textLength="126.85" lengthAdjust="spacingAndGlyphs">River</text>
<text x="703.74" y="734.60" font-size="50" textLength="127.46" lengthAdjust="spacingAndGlyphs">water</text>
<text x="1841.71" y="289.30" font-size="50" textLength="56.75" lengthAdjust="spacingAndGlyphs">10</text>
<text x="1901.65" y="277.90" font-size="35" textLength="28.84" lengthAdjust="spacingAndGlyphs">−</text>
<text x="1932.87" y="274.60" font-size="35" textLength="19.12" lengthAdjust="spacingAndGlyphs">3</text>
<text x="1972.03" y="289.30" font-size="50" textLength="86.58" lengthAdjust="spacingAndGlyphs">mol</text>
<line x1="2064.50" y1="299.70" x2="2082.70" y2="254.30" stroke="#000" stroke-width="2.7"/>
<text x="2088.13" y="289.30" font-size="50" textLength="33.24" lengthAdjust="spacingAndGlyphs">L</text>
<text x="1841.71" y="507.10" font-size="50" textLength="56.75" lengthAdjust="spacingAndGlyphs">10</text>
<text x="1901.65" y="495.70" font-size="35" textLength="28.84" lengthAdjust="spacingAndGlyphs">−</text>
<text x="1933.11" y="492.40" font-size="35" textLength="18.49" lengthAdjust="spacingAndGlyphs">6</text>
<text x="1972.03" y="507.10" font-size="50" textLength="86.58" lengthAdjust="spacingAndGlyphs">mol</text>
<line x1="2064.50" y1="517.50" x2="2082.70" y2="472.10" stroke="#000" stroke-width="2.7"/>
<text x="2088.13" y="507.10" font-size="50" textLength="33.24" lengthAdjust="spacingAndGlyphs">L</text>
<text x="1841.71" y="667.00" font-size="50" textLength="56.75" lengthAdjust="spacingAndGlyphs">10</text>
<text x="1901.65" y="655.60" font-size="35" textLength="28.84" lengthAdjust="spacingAndGlyphs">−</text>
<text x="1933.51" y="652.30" font-size="35" textLength="18.51" lengthAdjust="spacingAndGlyphs">9</text>
<text x="1972.03" y="667.00" font-size="50" textLength="86.58" lengthAdjust="spacingAndGlyphs">mol</text>
<line x1="2064.50" y1="677.40" x2="2082.70" y2="632.00" stroke="#000" stroke-width="2.7"/>
<text x="2088.13" y="667.00" font-size="50" textLength="33.24" lengthAdjust="spacingAndGlyphs">L</text>
<text x="1841.71" y="759.80" font-size="50" textLength="56.75" lengthAdjust="spacingAndGlyphs">10</text>
<text x="1901.65" y="748.40" font-size="35" textLength="28.84" lengthAdjust="spacingAndGlyphs">−</text>
<text x="1932.32" y="745.10" font-size="35" textLength="39.56" lengthAdjust="spacingAndGlyphs">12</text>
<text x="1991.23" y="759.80" font-size="50" textLength="86.58" lengthAdjust="spacingAndGlyphs">mol</text>
<line x1="2083.70" y1="770.20" x2="2101.90" y2="724.80" stroke="#000" stroke-width="2.7"/>
<text x="2107.33" y="759.80" font-size="50" textLength="33.24" lengthAdjust="spacingAndGlyphs">L</text>
<text x="548.81" y="1354.70" font-size="50" textLength="56.75" lengthAdjust="spacingAndGlyphs">10</text>
<text x="608.75" y="1343.30" font-size="35" textLength="28.84" lengthAdjust="spacingAndGlyphs">−</text>
<text x="639.97" y="1340.00" font-size="35" textLength="19.12" lengthAdjust="spacingAndGlyphs">3</text>
<text x="679.13" y="1354.70" font-size="50" textLength="86.58" lengthAdjust="spacingAndGlyphs">mol</text>
<line x1="771.60" y1="1365.10" x2="789.80" y2="1319.70" stroke="#000" stroke-width="2.7"/>
<text x="795.23" y="1354.70" font-size="50" textLength="33.24" lengthAdjust="spacingAndGlyphs">L</text>
<text x="548.81" y="1571.50" font-size="50" textLength="56.75" lengthAdjust="spacingAndGlyphs">10</text>
<text x="608.75" y="1560.10" font-size="35" textLength="28.84" lengthAdjust="spacingAndGlyphs">−</text>
<text x="640.21" y="1556.80" font-size="35" textLength="18.49" lengthAdjust="spacingAndGlyphs">6</text>
<text x="679.13" y="1571.50" font-size="50" textLength="86.58" lengthAdjust="spacingAndGlyphs">mol</text>
<line x1="771.60" y1="1581.90" x2="789.80" y2="1536.50" stroke="#000" stroke-width="2.7"/>
<text x="795.23" y="1571.50" font-size="50" textLength="33.24" lengthAdjust="spacingAndGlyphs">L</text>
<text x="548.81" y="1731.70" font-size="50" textLength="56.75" lengthAdjust="spacingAndGlyphs">10</text>
<text x="608.75" y="1720.30" font-size="35" textLength="28.84" lengthAdjust="spacingAndGlyphs">−</text>
<text x="640.61" y="1717.00" font-size="35" textLength="18.51" lengthAdjust="spacingAndGlyphs">9</text>
<text x="679.13" y="1731.70" font-size="50" textLength="86.58" lengthAdjust="spacingAndGlyphs">mol</text>
<line x1="771.60" y1="1742.10" x2="789.80" y2="1696.70" stroke="#000" stroke-width="2.7"/>
<text x="795.23" y="1731.70" font-size="50" textLength="33.24" lengthAdjust="spacingAndGlyphs">L</text>
<text x="548.81" y="1824.20" font-size="50" textLength="56.75" lengthAdjust="spacingAndGlyphs">10</text>
<text x="608.75" y="1812.80" font-size="35" textLength="28.84" lengthAdjust="spacingAndGlyphs">−</text>
<text x="639.42" y="1809.50" font-size="35" textLength="39.56" lengthAdjust="spacingAndGlyphs">12</text>
<text x="698.33" y="1824.20" font-size="50" textLength="86.58" lengthAdjust="spacingAndGlyphs">mol</text>
<line x1="790.80" y1="1834.60" x2="809.00" y2="1789.20" stroke="#000" stroke-width="2.7"/>
<text x="814.43" y="1824.20" font-size="50" textLength="33.24" lengthAdjust="spacingAndGlyphs">L</text>
<text x="1843.26" y="1220.20" font-size="50" textLength="132.91" lengthAdjust="spacingAndGlyphs">Cycle</text>
<text x="1995.01" y="1220.20" font-size="50" textLength="28.97" lengthAdjust="spacingAndGlyphs">1</text>
<text x="1843.26" y="1378.60" font-size="50" textLength="132.91" lengthAdjust="spacingAndGlyphs">Cycle</text>
<text x="1997.86" y="1378.60" font-size="50" textLength="25.44" lengthAdjust="spacingAndGlyphs">2</text>
<text x="1843.26" y="1545.30" font-size="50" textLength="132.91" lengthAdjust="spacingAndGlyphs">Cycle</text>
<text x="1997.74" y="1545.30" font-size="50" textLength="24.69" lengthAdjust="spacingAndGlyphs">3</text>
<text x="1843.26" y="1689.00" font-size="50" textLength="132.91" lengthAdjust="spacingAndGlyphs">Cycle</text>
<text x="1999.24" y="1689.00" font-size="50" textLength="21.94" lengthAdjust="spacingAndGlyphs">4</text>
<text x="1843.26" y="1852.70" font-size="50" textLength="132.91" lengthAdjust="spacingAndGlyphs">Cycle</text>
<text x="1997.16" y="1852.70" font-size="50" textLength="25.32" lengthAdjust="spacingAndGlyphs">5</text>
</svg></body></html>
